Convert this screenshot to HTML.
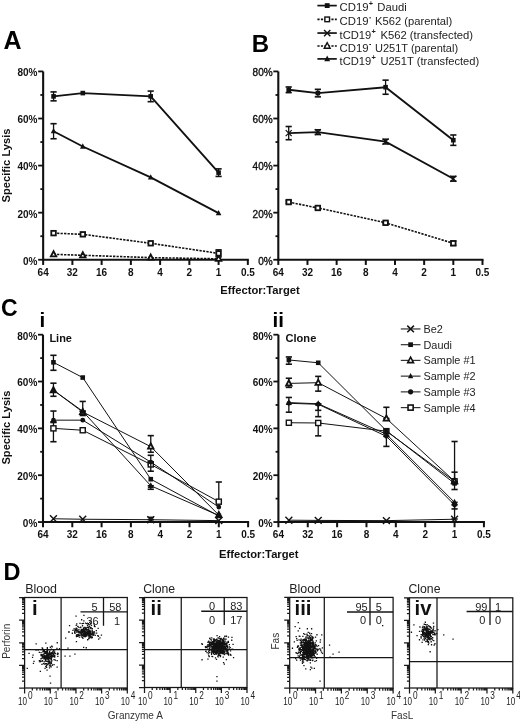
<!DOCTYPE html>
<html><head><meta charset="utf-8"><style>
html,body{margin:0;padding:0;background:#fff;}
svg{display:block;font-family:"Liberation Sans", sans-serif;will-change:transform;}
</style></head><body>
<svg width="520" height="722" viewBox="0 0 520 722">
<rect x="0" y="0" width="520" height="722" fill="#fff"/>
<line x1="43.15" y1="71.43" x2="43.15" y2="260.75" stroke="#111" stroke-width="2.1" />
<line x1="38.15" y1="259.75" x2="43.15" y2="259.75" stroke="#111" stroke-width="1.8" />
<text x="37.45" y="264.65" font-size="10" font-weight="bold" text-anchor="end" fill="#111" >0%</text>
<line x1="40.35" y1="236.21" x2="43.15" y2="236.21" stroke="#111" stroke-width="1.8" />
<line x1="38.15" y1="212.67" x2="43.15" y2="212.67" stroke="#111" stroke-width="1.8" />
<text x="37.45" y="217.57" font-size="10" font-weight="bold" text-anchor="end" fill="#111" >20%</text>
<line x1="40.35" y1="189.13" x2="43.15" y2="189.13" stroke="#111" stroke-width="1.8" />
<line x1="38.15" y1="165.59" x2="43.15" y2="165.59" stroke="#111" stroke-width="1.8" />
<text x="37.45" y="170.49" font-size="10" font-weight="bold" text-anchor="end" fill="#111" >40%</text>
<line x1="40.35" y1="142.05" x2="43.15" y2="142.05" stroke="#111" stroke-width="1.8" />
<line x1="38.15" y1="118.51" x2="43.15" y2="118.51" stroke="#111" stroke-width="1.8" />
<text x="37.45" y="123.41" font-size="10" font-weight="bold" text-anchor="end" fill="#111" >60%</text>
<line x1="40.35" y1="94.97" x2="43.15" y2="94.97" stroke="#111" stroke-width="1.8" />
<line x1="38.15" y1="71.43" x2="43.15" y2="71.43" stroke="#111" stroke-width="1.8" />
<text x="37.45" y="76.33" font-size="10" font-weight="bold" text-anchor="end" fill="#111" >80%</text>
<line x1="42.15" y1="259.75" x2="248.83" y2="259.75" stroke="#111" stroke-width="2.1" />
<line x1="43.15" y1="259.75" x2="43.15" y2="264.95" stroke="#111" stroke-width="2.0" />
<text x="43.15" y="275.90" font-size="10" font-weight="bold" text-anchor="middle" fill="#111" >64</text>
<line x1="72.39" y1="259.75" x2="72.39" y2="264.95" stroke="#111" stroke-width="2.0" />
<text x="72.39" y="275.90" font-size="10" font-weight="bold" text-anchor="middle" fill="#111" >32</text>
<line x1="101.63" y1="259.75" x2="101.63" y2="264.95" stroke="#111" stroke-width="2.0" />
<text x="101.63" y="275.90" font-size="10" font-weight="bold" text-anchor="middle" fill="#111" >16</text>
<line x1="130.87" y1="259.75" x2="130.87" y2="264.95" stroke="#111" stroke-width="2.0" />
<text x="130.87" y="275.90" font-size="10" font-weight="bold" text-anchor="middle" fill="#111" >8</text>
<line x1="160.11" y1="259.75" x2="160.11" y2="264.95" stroke="#111" stroke-width="2.0" />
<text x="160.11" y="275.90" font-size="10" font-weight="bold" text-anchor="middle" fill="#111" >4</text>
<line x1="189.35" y1="259.75" x2="189.35" y2="264.95" stroke="#111" stroke-width="2.0" />
<text x="189.35" y="275.90" font-size="10" font-weight="bold" text-anchor="middle" fill="#111" >2</text>
<line x1="218.59" y1="259.75" x2="218.59" y2="264.95" stroke="#111" stroke-width="2.0" />
<text x="218.59" y="275.90" font-size="10" font-weight="bold" text-anchor="middle" fill="#111" >1</text>
<line x1="247.83" y1="259.75" x2="247.83" y2="264.95" stroke="#111" stroke-width="2.0" />
<text x="247.83" y="275.90" font-size="10" font-weight="bold" text-anchor="middle" fill="#111" >0.5</text>
<path d="M53.56,254.34 L82.80,255.28 L150.70,257.63 L218.59,258.81" fill="none" stroke="#111" stroke-width="1.6" stroke-dasharray="2.3,1.2"/>
<polygon points="53.56,251.21 50.82,256.42 56.31,256.42" fill="#fff" stroke="#111" stroke-width="1.8" stroke-linejoin="miter"/>
<polygon points="82.80,252.15 80.06,257.36 85.55,257.36" fill="#fff" stroke="#111" stroke-width="1.8" stroke-linejoin="miter"/>
<polygon points="150.70,254.50 147.95,259.72 153.44,259.72" fill="#fff" stroke="#111" stroke-width="1.8" stroke-linejoin="miter"/>
<polygon points="218.59,255.68 215.84,260.89 221.34,260.89" fill="#fff" stroke="#111" stroke-width="1.8" stroke-linejoin="miter"/>
<path d="M53.56,233.15 L82.80,234.33 L150.70,243.27 L218.59,253.39" fill="none" stroke="#111" stroke-width="1.6" stroke-dasharray="2.3,1.2"/>
<line x1="218.59" y1="249.86" x2="218.59" y2="256.93" stroke="#111" stroke-width="1.3" />
<line x1="215.49" y1="249.86" x2="221.69" y2="249.86" stroke="#111" stroke-width="1.6" />
<line x1="215.49" y1="256.93" x2="221.69" y2="256.93" stroke="#111" stroke-width="1.6" />
<rect x="51.29" y="230.87" width="4.55" height="4.55" fill="#fff" stroke="#111" stroke-width="1.8"/>
<rect x="80.53" y="232.05" width="4.55" height="4.55" fill="#fff" stroke="#111" stroke-width="1.8"/>
<rect x="148.42" y="241.00" width="4.55" height="4.55" fill="#fff" stroke="#111" stroke-width="1.8"/>
<rect x="216.31" y="251.12" width="4.55" height="4.55" fill="#fff" stroke="#111" stroke-width="1.8"/>
<path d="M53.56,131.22 L82.80,146.52 L150.70,177.36 L218.59,213.14" fill="none" stroke="#111" stroke-width="1.9" />
<line x1="53.56" y1="123.69" x2="53.56" y2="138.75" stroke="#111" stroke-width="1.3" />
<line x1="50.46" y1="123.69" x2="56.66" y2="123.69" stroke="#111" stroke-width="1.6" />
<line x1="50.46" y1="138.75" x2="56.66" y2="138.75" stroke="#111" stroke-width="1.6" />
<polygon points="53.56,128.03 50.76,133.35 56.36,133.35" fill="#111"/>
<polygon points="82.80,143.33 80.00,148.65 85.60,148.65" fill="#111"/>
<polygon points="150.70,174.17 147.90,179.49 153.50,179.49" fill="#111"/>
<polygon points="218.59,209.95 215.79,215.27 221.39,215.27" fill="#111"/>
<path d="M53.56,96.38 L82.80,93.09 L150.70,96.38 L218.59,172.65" fill="none" stroke="#111" stroke-width="1.9" />
<line x1="53.56" y1="91.91" x2="53.56" y2="100.85" stroke="#111" stroke-width="1.3" />
<line x1="50.46" y1="91.91" x2="56.66" y2="91.91" stroke="#111" stroke-width="1.6" />
<line x1="50.46" y1="100.85" x2="56.66" y2="100.85" stroke="#111" stroke-width="1.6" />
<line x1="150.70" y1="91.09" x2="150.70" y2="101.68" stroke="#111" stroke-width="1.3" />
<line x1="147.60" y1="91.09" x2="153.80" y2="91.09" stroke="#111" stroke-width="1.6" />
<line x1="147.60" y1="101.68" x2="153.80" y2="101.68" stroke="#111" stroke-width="1.6" />
<line x1="218.59" y1="168.89" x2="218.59" y2="176.42" stroke="#111" stroke-width="1.3" />
<line x1="215.49" y1="168.89" x2="221.69" y2="168.89" stroke="#111" stroke-width="1.6" />
<line x1="215.49" y1="176.42" x2="221.69" y2="176.42" stroke="#111" stroke-width="1.6" />
<rect x="51.26" y="94.08" width="4.60" height="4.60" fill="#111"/>
<rect x="80.50" y="90.79" width="4.60" height="4.60" fill="#111"/>
<rect x="148.40" y="94.08" width="4.60" height="4.60" fill="#111"/>
<rect x="216.29" y="170.35" width="4.60" height="4.60" fill="#111"/>
<line x1="278.30" y1="71.43" x2="278.30" y2="260.75" stroke="#111" stroke-width="2.1" />
<line x1="273.30" y1="259.75" x2="278.30" y2="259.75" stroke="#111" stroke-width="1.8" />
<text x="272.60" y="264.65" font-size="10" font-weight="normal" text-anchor="end" fill="#111" stroke="#111" stroke-width="0.35">0%</text>
<line x1="275.50" y1="236.21" x2="278.30" y2="236.21" stroke="#111" stroke-width="1.8" />
<line x1="273.30" y1="212.67" x2="278.30" y2="212.67" stroke="#111" stroke-width="1.8" />
<text x="272.60" y="217.57" font-size="10" font-weight="normal" text-anchor="end" fill="#111" stroke="#111" stroke-width="0.35">20%</text>
<line x1="275.50" y1="189.13" x2="278.30" y2="189.13" stroke="#111" stroke-width="1.8" />
<line x1="273.30" y1="165.59" x2="278.30" y2="165.59" stroke="#111" stroke-width="1.8" />
<text x="272.60" y="170.49" font-size="10" font-weight="normal" text-anchor="end" fill="#111" stroke="#111" stroke-width="0.35">40%</text>
<line x1="275.50" y1="142.05" x2="278.30" y2="142.05" stroke="#111" stroke-width="1.8" />
<line x1="273.30" y1="118.51" x2="278.30" y2="118.51" stroke="#111" stroke-width="1.8" />
<text x="272.60" y="123.41" font-size="10" font-weight="normal" text-anchor="end" fill="#111" stroke="#111" stroke-width="0.35">60%</text>
<line x1="275.50" y1="94.97" x2="278.30" y2="94.97" stroke="#111" stroke-width="1.8" />
<line x1="273.30" y1="71.43" x2="278.30" y2="71.43" stroke="#111" stroke-width="1.8" />
<text x="272.60" y="76.33" font-size="10" font-weight="normal" text-anchor="end" fill="#111" stroke="#111" stroke-width="0.35">80%</text>
<line x1="277.30" y1="259.75" x2="483.49" y2="259.75" stroke="#111" stroke-width="2.1" />
<line x1="278.30" y1="259.75" x2="278.30" y2="264.95" stroke="#111" stroke-width="2.0" />
<text x="278.30" y="275.90" font-size="10" font-weight="bold" text-anchor="middle" fill="#111" >64</text>
<line x1="307.47" y1="259.75" x2="307.47" y2="264.95" stroke="#111" stroke-width="2.0" />
<text x="307.47" y="275.90" font-size="10" font-weight="bold" text-anchor="middle" fill="#111" >32</text>
<line x1="336.64" y1="259.75" x2="336.64" y2="264.95" stroke="#111" stroke-width="2.0" />
<text x="336.64" y="275.90" font-size="10" font-weight="bold" text-anchor="middle" fill="#111" >16</text>
<line x1="365.81" y1="259.75" x2="365.81" y2="264.95" stroke="#111" stroke-width="2.0" />
<text x="365.81" y="275.90" font-size="10" font-weight="bold" text-anchor="middle" fill="#111" >8</text>
<line x1="394.98" y1="259.75" x2="394.98" y2="264.95" stroke="#111" stroke-width="2.0" />
<text x="394.98" y="275.90" font-size="10" font-weight="bold" text-anchor="middle" fill="#111" >4</text>
<line x1="424.15" y1="259.75" x2="424.15" y2="264.95" stroke="#111" stroke-width="2.0" />
<text x="424.15" y="275.90" font-size="10" font-weight="bold" text-anchor="middle" fill="#111" >2</text>
<line x1="453.32" y1="259.75" x2="453.32" y2="264.95" stroke="#111" stroke-width="2.0" />
<text x="453.32" y="275.90" font-size="10" font-weight="bold" text-anchor="middle" fill="#111" >1</text>
<line x1="482.49" y1="259.75" x2="482.49" y2="264.95" stroke="#111" stroke-width="2.0" />
<text x="482.49" y="275.90" font-size="10" font-weight="bold" text-anchor="middle" fill="#111" >0.5</text>
<path d="M288.69,202.08 L317.86,207.96 L385.59,222.79 L453.32,243.27" fill="none" stroke="#111" stroke-width="1.6" stroke-dasharray="2.3,1.2"/>
<line x1="288.69" y1="200.90" x2="288.69" y2="203.25" stroke="#111" stroke-width="1.3" />
<line x1="285.59" y1="200.90" x2="291.79" y2="200.90" stroke="#111" stroke-width="1.6" />
<line x1="285.59" y1="203.25" x2="291.79" y2="203.25" stroke="#111" stroke-width="1.6" />
<line x1="317.86" y1="206.78" x2="317.86" y2="209.14" stroke="#111" stroke-width="1.3" />
<line x1="314.76" y1="206.78" x2="320.96" y2="206.78" stroke="#111" stroke-width="1.6" />
<line x1="314.76" y1="209.14" x2="320.96" y2="209.14" stroke="#111" stroke-width="1.6" />
<line x1="385.59" y1="221.85" x2="385.59" y2="223.73" stroke="#111" stroke-width="1.3" />
<line x1="382.49" y1="221.85" x2="388.69" y2="221.85" stroke="#111" stroke-width="1.6" />
<line x1="382.49" y1="223.73" x2="388.69" y2="223.73" stroke="#111" stroke-width="1.6" />
<line x1="453.32" y1="241.15" x2="453.32" y2="245.39" stroke="#111" stroke-width="1.3" />
<line x1="450.22" y1="241.15" x2="456.42" y2="241.15" stroke="#111" stroke-width="1.6" />
<line x1="450.22" y1="245.39" x2="456.42" y2="245.39" stroke="#111" stroke-width="1.6" />
<rect x="286.41" y="199.80" width="4.55" height="4.55" fill="#fff" stroke="#111" stroke-width="1.8"/>
<rect x="315.58" y="205.69" width="4.55" height="4.55" fill="#fff" stroke="#111" stroke-width="1.8"/>
<rect x="383.31" y="220.52" width="4.55" height="4.55" fill="#fff" stroke="#111" stroke-width="1.8"/>
<rect x="451.04" y="241.00" width="4.55" height="4.55" fill="#fff" stroke="#111" stroke-width="1.8"/>
<path d="M288.69,133.10 L317.86,132.16 L385.59,141.58 L453.32,178.77" fill="none" stroke="#111" stroke-width="1.9" />
<line x1="288.69" y1="126.51" x2="288.69" y2="139.70" stroke="#111" stroke-width="1.3" />
<line x1="285.59" y1="126.51" x2="291.79" y2="126.51" stroke="#111" stroke-width="1.6" />
<line x1="285.59" y1="139.70" x2="291.79" y2="139.70" stroke="#111" stroke-width="1.6" />
<line x1="317.86" y1="129.81" x2="317.86" y2="134.52" stroke="#111" stroke-width="1.3" />
<line x1="314.76" y1="129.81" x2="320.96" y2="129.81" stroke="#111" stroke-width="1.6" />
<line x1="314.76" y1="134.52" x2="320.96" y2="134.52" stroke="#111" stroke-width="1.6" />
<line x1="385.59" y1="139.23" x2="385.59" y2="143.93" stroke="#111" stroke-width="1.3" />
<line x1="382.49" y1="139.23" x2="388.69" y2="139.23" stroke="#111" stroke-width="1.6" />
<line x1="382.49" y1="143.93" x2="388.69" y2="143.93" stroke="#111" stroke-width="1.6" />
<line x1="453.32" y1="176.42" x2="453.32" y2="181.13" stroke="#111" stroke-width="1.3" />
<line x1="450.22" y1="176.42" x2="456.42" y2="176.42" stroke="#111" stroke-width="1.6" />
<line x1="450.22" y1="181.13" x2="456.42" y2="181.13" stroke="#111" stroke-width="1.6" />
<path d="M285.69,130.10L291.69,136.10M285.69,136.10L291.69,130.10" stroke="#111" stroke-width="1.2" fill="none"/>
<path d="M314.86,129.16L320.86,135.16M314.86,135.16L320.86,129.16" stroke="#111" stroke-width="1.2" fill="none"/>
<path d="M382.59,138.58L388.59,144.58M382.59,144.58L388.59,138.58" stroke="#111" stroke-width="1.2" fill="none"/>
<path d="M450.32,175.77L456.32,181.77M450.32,181.77L456.32,175.77" stroke="#111" stroke-width="1.2" fill="none"/>
<path d="M288.69,89.79 L317.86,93.09 L385.59,87.20 L453.32,140.17" fill="none" stroke="#111" stroke-width="1.9" />
<line x1="288.69" y1="86.97" x2="288.69" y2="92.62" stroke="#111" stroke-width="1.3" />
<line x1="285.59" y1="86.97" x2="291.79" y2="86.97" stroke="#111" stroke-width="1.6" />
<line x1="285.59" y1="92.62" x2="291.79" y2="92.62" stroke="#111" stroke-width="1.6" />
<line x1="317.86" y1="89.32" x2="317.86" y2="96.85" stroke="#111" stroke-width="1.3" />
<line x1="314.76" y1="89.32" x2="320.96" y2="89.32" stroke="#111" stroke-width="1.6" />
<line x1="314.76" y1="96.85" x2="320.96" y2="96.85" stroke="#111" stroke-width="1.6" />
<line x1="385.59" y1="80.14" x2="385.59" y2="94.26" stroke="#111" stroke-width="1.3" />
<line x1="382.49" y1="80.14" x2="388.69" y2="80.14" stroke="#111" stroke-width="1.6" />
<line x1="382.49" y1="94.26" x2="388.69" y2="94.26" stroke="#111" stroke-width="1.6" />
<line x1="453.32" y1="134.99" x2="453.32" y2="145.35" stroke="#111" stroke-width="1.3" />
<line x1="450.22" y1="134.99" x2="456.42" y2="134.99" stroke="#111" stroke-width="1.6" />
<line x1="450.22" y1="145.35" x2="456.42" y2="145.35" stroke="#111" stroke-width="1.6" />
<rect x="286.39" y="87.49" width="4.60" height="4.60" fill="#111"/>
<rect x="315.56" y="90.79" width="4.60" height="4.60" fill="#111"/>
<rect x="383.29" y="84.90" width="4.60" height="4.60" fill="#111"/>
<rect x="451.02" y="137.87" width="4.60" height="4.60" fill="#111"/>
<text x="3.50" y="49.20" font-size="25" font-weight="bold" text-anchor="start" fill="#000" >A</text>
<text x="251.80" y="51.60" font-size="24" font-weight="bold" text-anchor="start" fill="#000" >B</text>
<text x="0.00" y="0.00" font-size="11.8" font-weight="bold" text-anchor="middle" fill="#111" textLength="74" lengthAdjust="spacingAndGlyphs" transform="translate(9.9,165.5) rotate(-90)">Specific Lysis</text>
<text x="260.00" y="293.80" font-size="11" font-weight="bold" text-anchor="middle" fill="#111" textLength="79.5" lengthAdjust="spacingAndGlyphs" >Effector:Target</text>
<line x1="317.4" y1="5.60" x2="336.8" y2="5.60" stroke="#111" stroke-width="1.7" />
<rect x="324.78" y="3.18" width="4.83" height="4.83" fill="#111"/>
<text x="339.60" y="11.30" font-size="11.2" font-weight="normal" text-anchor="start" fill="#222" textLength="29.0" lengthAdjust="spacingAndGlyphs" >CD19</text>
<text x="368.80" y="6.20" font-size="7.4" font-weight="bold" text-anchor="start" fill="#222" >+</text>
<text x="377.30" y="11.30" font-size="11.2" font-weight="normal" text-anchor="start" fill="#222" textLength="29.4" lengthAdjust="spacingAndGlyphs" >Daudi</text>
<line x1="317.4" y1="19.35" x2="336.8" y2="19.35" stroke="#111" stroke-width="1.7" stroke-dasharray="2.2,1.3"/>
<rect x="324.88" y="17.04" width="4.63" height="4.63" fill="#fff" stroke="#111" stroke-width="1.4"/>
<text x="339.60" y="25.05" font-size="11.2" font-weight="normal" text-anchor="start" fill="#222" textLength="29.0" lengthAdjust="spacingAndGlyphs" >CD19</text>
<rect x="369.30" y="17.35" width="1.7" height="1.0" fill="#222"/>
<text x="375.00" y="25.05" font-size="11.2" font-weight="normal" text-anchor="start" fill="#222" textLength="77.3" lengthAdjust="spacingAndGlyphs" >K562 (parental)</text>
<line x1="317.4" y1="33.05" x2="336.8" y2="33.05" stroke="#111" stroke-width="1.7" />
<path d="M324.05,29.90L330.35,36.20M324.05,36.20L330.35,29.90" stroke="#111" stroke-width="1.4" fill="none"/>
<text x="339.60" y="38.75" font-size="11.2" font-weight="normal" text-anchor="start" fill="#222" textLength="31.7" lengthAdjust="spacingAndGlyphs" >tCD19</text>
<text x="371.50" y="33.65" font-size="7.4" font-weight="bold" text-anchor="start" fill="#222" >+</text>
<text x="380.40" y="38.75" font-size="11.2" font-weight="normal" text-anchor="start" fill="#222" textLength="92.7" lengthAdjust="spacingAndGlyphs" >K562 (transfected)</text>
<line x1="317.4" y1="46.00" x2="336.8" y2="46.00" stroke="#111" stroke-width="1.7" stroke-dasharray="2.2,1.3"/>
<polygon points="327.20,42.64 324.25,48.24 330.14,48.24" fill="#fff" stroke="#111" stroke-width="1.4" stroke-linejoin="miter"/>
<text x="339.60" y="51.70" font-size="11.2" font-weight="normal" text-anchor="start" fill="#222" textLength="29.0" lengthAdjust="spacingAndGlyphs" >CD19</text>
<rect x="369.30" y="44.00" width="1.7" height="1.0" fill="#222"/>
<text x="375.00" y="51.70" font-size="11.2" font-weight="normal" text-anchor="start" fill="#222" textLength="83.10000000000001" lengthAdjust="spacingAndGlyphs" >U251T (parental)</text>
<line x1="317.4" y1="58.90" x2="336.8" y2="58.90" stroke="#111" stroke-width="1.7" />
<polygon points="327.20,55.55 324.26,61.13 330.14,61.13" fill="#111"/>
<text x="339.60" y="64.60" font-size="11.2" font-weight="normal" text-anchor="start" fill="#222" textLength="31.7" lengthAdjust="spacingAndGlyphs" >tCD19</text>
<text x="371.50" y="59.50" font-size="7.4" font-weight="bold" text-anchor="start" fill="#222" >+</text>
<text x="380.40" y="64.60" font-size="11.2" font-weight="normal" text-anchor="start" fill="#222" textLength="98.8" lengthAdjust="spacingAndGlyphs" >U251T (transfected)</text>
<line x1="43.00" y1="334.69" x2="43.00" y2="523.05" stroke="#111" stroke-width="2.1" />
<line x1="38.00" y1="522.05" x2="43.00" y2="522.05" stroke="#111" stroke-width="1.8" />
<text x="37.30" y="526.95" font-size="10" font-weight="bold" text-anchor="end" fill="#111" >0%</text>
<line x1="40.20" y1="498.63" x2="43.00" y2="498.63" stroke="#111" stroke-width="1.8" />
<line x1="38.00" y1="475.21" x2="43.00" y2="475.21" stroke="#111" stroke-width="1.8" />
<text x="37.30" y="480.11" font-size="10" font-weight="bold" text-anchor="end" fill="#111" >20%</text>
<line x1="40.20" y1="451.79" x2="43.00" y2="451.79" stroke="#111" stroke-width="1.8" />
<line x1="38.00" y1="428.37" x2="43.00" y2="428.37" stroke="#111" stroke-width="1.8" />
<text x="37.30" y="433.27" font-size="10" font-weight="bold" text-anchor="end" fill="#111" >40%</text>
<line x1="40.20" y1="404.95" x2="43.00" y2="404.95" stroke="#111" stroke-width="1.8" />
<line x1="38.00" y1="381.53" x2="43.00" y2="381.53" stroke="#111" stroke-width="1.8" />
<text x="37.30" y="386.43" font-size="10" font-weight="bold" text-anchor="end" fill="#111" >60%</text>
<line x1="40.20" y1="358.11" x2="43.00" y2="358.11" stroke="#111" stroke-width="1.8" />
<line x1="38.00" y1="334.69" x2="43.00" y2="334.69" stroke="#111" stroke-width="1.8" />
<text x="37.30" y="339.59" font-size="10" font-weight="bold" text-anchor="end" fill="#111" >80%</text>
<line x1="42.00" y1="522.05" x2="249.10" y2="522.05" stroke="#111" stroke-width="2.1" />
<line x1="43.00" y1="522.05" x2="43.00" y2="527.25" stroke="#111" stroke-width="2.0" />
<text x="43.00" y="538.40" font-size="10" font-weight="bold" text-anchor="middle" fill="#111" >64</text>
<line x1="72.30" y1="522.05" x2="72.30" y2="527.25" stroke="#111" stroke-width="2.0" />
<text x="72.30" y="538.40" font-size="10" font-weight="bold" text-anchor="middle" fill="#111" >32</text>
<line x1="101.60" y1="522.05" x2="101.60" y2="527.25" stroke="#111" stroke-width="2.0" />
<text x="101.60" y="538.40" font-size="10" font-weight="bold" text-anchor="middle" fill="#111" >16</text>
<line x1="130.90" y1="522.05" x2="130.90" y2="527.25" stroke="#111" stroke-width="2.0" />
<text x="130.90" y="538.40" font-size="10" font-weight="bold" text-anchor="middle" fill="#111" >8</text>
<line x1="160.20" y1="522.05" x2="160.20" y2="527.25" stroke="#111" stroke-width="2.0" />
<text x="160.20" y="538.40" font-size="10" font-weight="bold" text-anchor="middle" fill="#111" >4</text>
<line x1="189.50" y1="522.05" x2="189.50" y2="527.25" stroke="#111" stroke-width="2.0" />
<text x="189.50" y="538.40" font-size="10" font-weight="bold" text-anchor="middle" fill="#111" >2</text>
<line x1="218.80" y1="522.05" x2="218.80" y2="527.25" stroke="#111" stroke-width="2.0" />
<text x="218.80" y="538.40" font-size="10" font-weight="bold" text-anchor="middle" fill="#111" >1</text>
<line x1="248.10" y1="522.05" x2="248.10" y2="527.25" stroke="#111" stroke-width="2.0" />
<text x="248.10" y="538.40" font-size="10" font-weight="bold" text-anchor="middle" fill="#111" >0.5</text>
<line x1="278.40" y1="334.69" x2="278.40" y2="523.05" stroke="#111" stroke-width="2.1" />
<line x1="273.40" y1="522.05" x2="278.40" y2="522.05" stroke="#111" stroke-width="1.8" />
<text x="272.70" y="526.95" font-size="10" font-weight="bold" text-anchor="end" fill="#111" >0%</text>
<line x1="275.60" y1="498.63" x2="278.40" y2="498.63" stroke="#111" stroke-width="1.8" />
<line x1="273.40" y1="475.21" x2="278.40" y2="475.21" stroke="#111" stroke-width="1.8" />
<text x="272.70" y="480.11" font-size="10" font-weight="bold" text-anchor="end" fill="#111" >20%</text>
<line x1="275.60" y1="451.79" x2="278.40" y2="451.79" stroke="#111" stroke-width="1.8" />
<line x1="273.40" y1="428.37" x2="278.40" y2="428.37" stroke="#111" stroke-width="1.8" />
<text x="272.70" y="433.27" font-size="10" font-weight="bold" text-anchor="end" fill="#111" >40%</text>
<line x1="275.60" y1="404.95" x2="278.40" y2="404.95" stroke="#111" stroke-width="1.8" />
<line x1="273.40" y1="381.53" x2="278.40" y2="381.53" stroke="#111" stroke-width="1.8" />
<text x="272.70" y="386.43" font-size="10" font-weight="bold" text-anchor="end" fill="#111" >60%</text>
<line x1="275.60" y1="358.11" x2="278.40" y2="358.11" stroke="#111" stroke-width="1.8" />
<line x1="273.40" y1="334.69" x2="278.40" y2="334.69" stroke="#111" stroke-width="1.8" />
<text x="272.70" y="339.59" font-size="10" font-weight="bold" text-anchor="end" fill="#111" >80%</text>
<line x1="277.40" y1="522.05" x2="484.92" y2="522.05" stroke="#111" stroke-width="2.1" />
<line x1="278.40" y1="522.05" x2="278.40" y2="527.25" stroke="#111" stroke-width="2.0" />
<text x="278.40" y="538.40" font-size="10" font-weight="bold" text-anchor="middle" fill="#111" >64</text>
<line x1="307.76" y1="522.05" x2="307.76" y2="527.25" stroke="#111" stroke-width="2.0" />
<text x="307.76" y="538.40" font-size="10" font-weight="bold" text-anchor="middle" fill="#111" >32</text>
<line x1="337.12" y1="522.05" x2="337.12" y2="527.25" stroke="#111" stroke-width="2.0" />
<text x="337.12" y="538.40" font-size="10" font-weight="bold" text-anchor="middle" fill="#111" >16</text>
<line x1="366.48" y1="522.05" x2="366.48" y2="527.25" stroke="#111" stroke-width="2.0" />
<text x="366.48" y="538.40" font-size="10" font-weight="bold" text-anchor="middle" fill="#111" >8</text>
<line x1="395.84" y1="522.05" x2="395.84" y2="527.25" stroke="#111" stroke-width="2.0" />
<text x="395.84" y="538.40" font-size="10" font-weight="bold" text-anchor="middle" fill="#111" >4</text>
<line x1="425.20" y1="522.05" x2="425.20" y2="527.25" stroke="#111" stroke-width="2.0" />
<text x="425.20" y="538.40" font-size="10" font-weight="bold" text-anchor="middle" fill="#111" >2</text>
<line x1="454.56" y1="522.05" x2="454.56" y2="527.25" stroke="#111" stroke-width="2.0" />
<text x="454.56" y="538.40" font-size="10" font-weight="bold" text-anchor="middle" fill="#111" >1</text>
<line x1="483.92" y1="522.05" x2="483.92" y2="527.25" stroke="#111" stroke-width="2.0" />
<text x="483.92" y="538.40" font-size="10" font-weight="bold" text-anchor="middle" fill="#111" >0.5</text>
<text x="1.00" y="316.30" font-size="23" font-weight="bold" text-anchor="start" fill="#000" >C</text>
<text x="39.60" y="326.80" font-size="20.5" font-weight="bold" text-anchor="start" fill="#000" >i</text>
<text x="272.50" y="326.80" font-size="20.5" font-weight="bold" text-anchor="start" fill="#000" >ii</text>
<text x="49.40" y="342.10" font-size="11" font-weight="bold" text-anchor="start" fill="#111" textLength="22.6" lengthAdjust="spacingAndGlyphs" >Line</text>
<text x="285.50" y="342.30" font-size="11" font-weight="bold" text-anchor="start" fill="#111" textLength="30.8" lengthAdjust="spacingAndGlyphs" >Clone</text>
<text x="0.00" y="0.00" font-size="11.8" font-weight="bold" text-anchor="middle" fill="#111" textLength="74" lengthAdjust="spacingAndGlyphs" transform="translate(9.6,427.6) rotate(-90)">Specific Lysis</text>
<text x="258.80" y="558.30" font-size="11" font-weight="bold" text-anchor="middle" fill="#111" textLength="79.5" lengthAdjust="spacingAndGlyphs" >Effector:Target</text>
<path d="M53.44,518.77 L82.74,519.24 L150.77,519.71 L218.80,520.64" fill="none" stroke="#111" stroke-width="1.0" />
<line x1="150.77" y1="517.37" x2="150.77" y2="519.71" stroke="#111" stroke-width="1.3" />
<line x1="147.67" y1="517.37" x2="153.87" y2="517.37" stroke="#111" stroke-width="1.6" />
<line x1="147.67" y1="519.71" x2="153.87" y2="519.71" stroke="#111" stroke-width="1.6" />
<path d="M49.99,515.32L56.89,522.22M49.99,522.22L56.89,515.32" stroke="#111" stroke-width="1.4" fill="none"/>
<path d="M79.29,515.79L86.19,522.69M79.29,522.69L86.19,515.79" stroke="#111" stroke-width="1.4" fill="none"/>
<path d="M147.32,516.26L154.22,523.16M147.32,523.16L154.22,516.26" stroke="#111" stroke-width="1.4" fill="none"/>
<path d="M215.35,517.19L222.25,524.09M215.35,524.09L222.25,517.19" stroke="#111" stroke-width="1.4" fill="none"/>
<path d="M53.44,428.37 L82.74,430.24 L150.77,464.44 L218.80,501.67" fill="none" stroke="#111" stroke-width="1.0" />
<line x1="53.44" y1="421.81" x2="53.44" y2="441.72" stroke="#111" stroke-width="1.3" />
<line x1="50.34" y1="421.81" x2="56.54" y2="421.81" stroke="#111" stroke-width="1.6" />
<line x1="50.34" y1="441.72" x2="56.54" y2="441.72" stroke="#111" stroke-width="1.6" />
<line x1="150.77" y1="455.30" x2="150.77" y2="464.44" stroke="#111" stroke-width="1.3" />
<line x1="147.67" y1="455.30" x2="153.87" y2="455.30" stroke="#111" stroke-width="1.6" />
<line x1="147.67" y1="464.44" x2="153.87" y2="464.44" stroke="#111" stroke-width="1.6" />
<line x1="218.80" y1="482.00" x2="218.80" y2="501.67" stroke="#111" stroke-width="1.3" />
<line x1="215.70" y1="482.00" x2="221.90" y2="482.00" stroke="#111" stroke-width="1.6" />
<line x1="215.70" y1="501.67" x2="221.90" y2="501.67" stroke="#111" stroke-width="1.6" />
<rect x="50.89" y="425.82" width="5.09" height="5.09" fill="#fff" stroke="#111" stroke-width="1.4"/>
<rect x="80.19" y="427.70" width="5.09" height="5.09" fill="#fff" stroke="#111" stroke-width="1.4"/>
<rect x="148.22" y="461.89" width="5.09" height="5.09" fill="#fff" stroke="#111" stroke-width="1.4"/>
<rect x="216.26" y="499.13" width="5.09" height="5.09" fill="#fff" stroke="#111" stroke-width="1.4"/>
<path d="M53.44,420.17 L82.74,420.17 L150.77,462.09 L218.80,507.06" fill="none" stroke="#111" stroke-width="1.0" />
<line x1="53.44" y1="411.04" x2="53.44" y2="422.51" stroke="#111" stroke-width="1.3" />
<line x1="50.34" y1="411.04" x2="56.54" y2="411.04" stroke="#111" stroke-width="1.6" />
<line x1="50.34" y1="422.51" x2="56.54" y2="422.51" stroke="#111" stroke-width="1.6" />
<line x1="150.77" y1="462.09" x2="150.77" y2="471.23" stroke="#111" stroke-width="1.3" />
<line x1="147.67" y1="462.09" x2="153.87" y2="462.09" stroke="#111" stroke-width="1.6" />
<line x1="147.67" y1="471.23" x2="153.87" y2="471.23" stroke="#111" stroke-width="1.6" />
<circle cx="53.44" cy="420.17" r="2.40" fill="#111"/>
<circle cx="82.74" cy="420.17" r="2.40" fill="#111"/>
<circle cx="150.77" cy="462.09" r="2.40" fill="#111"/>
<circle cx="218.80" cy="507.06" r="2.40" fill="#111"/>
<path d="M53.44,390.20 L82.74,411.98 L150.77,446.64 L218.80,515.02" fill="none" stroke="#111" stroke-width="1.0" />
<line x1="53.44" y1="383.17" x2="53.44" y2="396.28" stroke="#111" stroke-width="1.3" />
<line x1="50.34" y1="383.17" x2="56.54" y2="383.17" stroke="#111" stroke-width="1.6" />
<line x1="50.34" y1="396.28" x2="56.54" y2="396.28" stroke="#111" stroke-width="1.6" />
<line x1="82.74" y1="401.44" x2="82.74" y2="415.49" stroke="#111" stroke-width="1.3" />
<line x1="79.64" y1="401.44" x2="85.84" y2="401.44" stroke="#111" stroke-width="1.6" />
<line x1="79.64" y1="415.49" x2="85.84" y2="415.49" stroke="#111" stroke-width="1.6" />
<line x1="150.77" y1="435.63" x2="150.77" y2="452.26" stroke="#111" stroke-width="1.3" />
<line x1="147.67" y1="435.63" x2="153.87" y2="435.63" stroke="#111" stroke-width="1.6" />
<line x1="147.67" y1="452.26" x2="153.87" y2="452.26" stroke="#111" stroke-width="1.6" />
<polygon points="53.44,387.07 50.69,392.28 56.18,392.28" fill="#fff" stroke="#111" stroke-width="1.8" stroke-linejoin="miter"/>
<polygon points="82.74,408.85 79.99,414.06 85.48,414.06" fill="#fff" stroke="#111" stroke-width="1.8" stroke-linejoin="miter"/>
<polygon points="150.77,443.51 148.02,448.72 153.51,448.72" fill="#fff" stroke="#111" stroke-width="1.8" stroke-linejoin="miter"/>
<polygon points="218.80,511.89 216.06,517.11 221.55,517.11" fill="#fff" stroke="#111" stroke-width="1.8" stroke-linejoin="miter"/>
<path d="M53.44,390.20 L82.74,411.27 L150.77,485.75 L218.80,515.49" fill="none" stroke="#111" stroke-width="1.0" />
<line x1="82.74" y1="411.27" x2="82.74" y2="411.27" stroke="#111" stroke-width="1.3" />
<line x1="79.64" y1="411.27" x2="85.84" y2="411.27" stroke="#111" stroke-width="1.6" />
<line x1="79.64" y1="411.27" x2="85.84" y2="411.27" stroke="#111" stroke-width="1.6" />
<line x1="150.77" y1="485.75" x2="150.77" y2="489.26" stroke="#111" stroke-width="1.3" />
<line x1="147.67" y1="485.75" x2="153.87" y2="485.75" stroke="#111" stroke-width="1.6" />
<line x1="147.67" y1="489.26" x2="153.87" y2="489.26" stroke="#111" stroke-width="1.6" />
<polygon points="53.44,386.68 50.36,392.54 56.52,392.54" fill="#111"/>
<polygon points="82.74,407.76 79.66,413.61 85.82,413.61" fill="#111"/>
<polygon points="150.77,482.24 147.69,488.09 153.85,488.09" fill="#111"/>
<polygon points="218.80,511.98 215.72,517.83 221.88,517.83" fill="#111"/>
<path d="M53.44,362.33 L82.74,377.55 L150.77,479.19 L218.80,515.96" fill="none" stroke="#111" stroke-width="1.0" />
<line x1="53.44" y1="355.30" x2="53.44" y2="370.29" stroke="#111" stroke-width="1.3" />
<line x1="50.34" y1="355.30" x2="56.54" y2="355.30" stroke="#111" stroke-width="1.6" />
<line x1="50.34" y1="370.29" x2="56.54" y2="370.29" stroke="#111" stroke-width="1.6" />
<rect x="51.14" y="360.03" width="4.60" height="4.60" fill="#111"/>
<rect x="80.44" y="375.25" width="4.60" height="4.60" fill="#111"/>
<rect x="148.47" y="476.89" width="4.60" height="4.60" fill="#111"/>
<rect x="216.50" y="513.66" width="4.60" height="4.60" fill="#111"/>
<path d="M288.86,520.18 L318.22,520.41 L386.39,520.64 L454.56,519.24" fill="none" stroke="#111" stroke-width="1.0" />
<path d="M285.41,516.73L292.31,523.63M285.41,523.63L292.31,516.73" stroke="#111" stroke-width="1.4" fill="none"/>
<path d="M314.77,516.96L321.67,523.86M314.77,523.86L321.67,516.96" stroke="#111" stroke-width="1.4" fill="none"/>
<path d="M382.94,517.19L389.84,524.09M382.94,524.09L389.84,517.19" stroke="#111" stroke-width="1.4" fill="none"/>
<path d="M451.11,515.79L458.01,522.69M451.11,522.69L458.01,515.79" stroke="#111" stroke-width="1.4" fill="none"/>
<path d="M288.86,422.75 L318.22,422.98 L386.39,431.18 L454.56,481.30" fill="none" stroke="#111" stroke-width="1.0" />
<line x1="318.22" y1="422.98" x2="318.22" y2="435.86" stroke="#111" stroke-width="1.3" />
<line x1="315.12" y1="422.98" x2="321.32" y2="422.98" stroke="#111" stroke-width="1.6" />
<line x1="315.12" y1="435.86" x2="321.32" y2="435.86" stroke="#111" stroke-width="1.6" />
<line x1="454.56" y1="441.49" x2="454.56" y2="481.30" stroke="#111" stroke-width="1.3" />
<line x1="451.46" y1="441.49" x2="457.66" y2="441.49" stroke="#111" stroke-width="1.6" />
<line x1="451.46" y1="481.30" x2="457.66" y2="481.30" stroke="#111" stroke-width="1.6" />
<rect x="286.31" y="420.20" width="5.09" height="5.09" fill="#fff" stroke="#111" stroke-width="1.4"/>
<rect x="315.67" y="420.44" width="5.09" height="5.09" fill="#fff" stroke="#111" stroke-width="1.4"/>
<rect x="383.84" y="428.64" width="5.09" height="5.09" fill="#fff" stroke="#111" stroke-width="1.4"/>
<rect x="452.01" y="478.75" width="5.09" height="5.09" fill="#fff" stroke="#111" stroke-width="1.4"/>
<path d="M288.86,403.31 L318.22,404.25 L386.39,436.33 L454.56,504.95" fill="none" stroke="#111" stroke-width="1.0" />
<line x1="288.86" y1="397.46" x2="288.86" y2="412.21" stroke="#111" stroke-width="1.3" />
<line x1="285.76" y1="397.46" x2="291.96" y2="397.46" stroke="#111" stroke-width="1.6" />
<line x1="285.76" y1="412.21" x2="291.96" y2="412.21" stroke="#111" stroke-width="1.6" />
<line x1="318.22" y1="404.25" x2="318.22" y2="416.66" stroke="#111" stroke-width="1.3" />
<line x1="315.12" y1="404.25" x2="321.32" y2="404.25" stroke="#111" stroke-width="1.6" />
<line x1="315.12" y1="416.66" x2="321.32" y2="416.66" stroke="#111" stroke-width="1.6" />
<line x1="386.39" y1="436.33" x2="386.39" y2="446.40" stroke="#111" stroke-width="1.3" />
<line x1="383.29" y1="436.33" x2="389.49" y2="436.33" stroke="#111" stroke-width="1.6" />
<line x1="383.29" y1="446.40" x2="389.49" y2="446.40" stroke="#111" stroke-width="1.6" />
<line x1="454.56" y1="504.95" x2="454.56" y2="519.01" stroke="#111" stroke-width="1.3" />
<line x1="451.46" y1="504.95" x2="457.66" y2="504.95" stroke="#111" stroke-width="1.6" />
<line x1="451.46" y1="519.01" x2="457.66" y2="519.01" stroke="#111" stroke-width="1.6" />
<circle cx="288.86" cy="403.31" r="2.40" fill="#111"/>
<circle cx="318.22" cy="404.25" r="2.40" fill="#111"/>
<circle cx="386.39" cy="436.33" r="2.40" fill="#111"/>
<circle cx="454.56" cy="504.95" r="2.40" fill="#111"/>
<path d="M288.86,402.61 L318.22,403.78 L386.39,434.22 L454.56,502.38" fill="none" stroke="#111" stroke-width="1.0" />
<line x1="318.22" y1="403.78" x2="318.22" y2="410.34" stroke="#111" stroke-width="1.3" />
<line x1="315.12" y1="403.78" x2="321.32" y2="403.78" stroke="#111" stroke-width="1.6" />
<line x1="315.12" y1="410.34" x2="321.32" y2="410.34" stroke="#111" stroke-width="1.6" />
<line x1="454.56" y1="502.38" x2="454.56" y2="508.93" stroke="#111" stroke-width="1.3" />
<line x1="451.46" y1="502.38" x2="457.66" y2="502.38" stroke="#111" stroke-width="1.6" />
<line x1="451.46" y1="508.93" x2="457.66" y2="508.93" stroke="#111" stroke-width="1.6" />
<polygon points="288.86,399.10 285.78,404.95 291.94,404.95" fill="#111"/>
<polygon points="318.22,400.27 315.14,406.12 321.30,406.12" fill="#111"/>
<polygon points="386.39,430.71 383.31,436.57 389.47,436.57" fill="#111"/>
<polygon points="454.56,498.87 451.48,504.72 457.64,504.72" fill="#111"/>
<path d="M288.86,383.40 L318.22,382.70 L386.39,418.53 L454.56,481.30" fill="none" stroke="#111" stroke-width="1.0" />
<line x1="288.86" y1="378.25" x2="288.86" y2="387.38" stroke="#111" stroke-width="1.3" />
<line x1="285.76" y1="378.25" x2="291.96" y2="378.25" stroke="#111" stroke-width="1.6" />
<line x1="285.76" y1="387.38" x2="291.96" y2="387.38" stroke="#111" stroke-width="1.6" />
<line x1="318.22" y1="376.38" x2="318.22" y2="391.13" stroke="#111" stroke-width="1.3" />
<line x1="315.12" y1="376.38" x2="321.32" y2="376.38" stroke="#111" stroke-width="1.6" />
<line x1="315.12" y1="391.13" x2="321.32" y2="391.13" stroke="#111" stroke-width="1.6" />
<line x1="386.39" y1="407.29" x2="386.39" y2="418.53" stroke="#111" stroke-width="1.3" />
<line x1="383.29" y1="407.29" x2="389.49" y2="407.29" stroke="#111" stroke-width="1.6" />
<line x1="383.29" y1="418.53" x2="389.49" y2="418.53" stroke="#111" stroke-width="1.6" />
<line x1="454.56" y1="472.17" x2="454.56" y2="489.50" stroke="#111" stroke-width="1.3" />
<line x1="451.46" y1="472.17" x2="457.66" y2="472.17" stroke="#111" stroke-width="1.6" />
<line x1="451.46" y1="489.50" x2="457.66" y2="489.50" stroke="#111" stroke-width="1.6" />
<polygon points="288.86,380.27 286.11,385.49 291.60,385.49" fill="#fff" stroke="#111" stroke-width="1.8" stroke-linejoin="miter"/>
<polygon points="318.22,379.57 315.47,384.79 320.96,384.79" fill="#fff" stroke="#111" stroke-width="1.8" stroke-linejoin="miter"/>
<polygon points="386.39,415.40 383.64,420.62 389.13,420.62" fill="#fff" stroke="#111" stroke-width="1.8" stroke-linejoin="miter"/>
<polygon points="454.56,478.17 451.81,483.39 457.30,483.39" fill="#fff" stroke="#111" stroke-width="1.8" stroke-linejoin="miter"/>
<path d="M288.86,359.98 L318.22,362.79 L386.39,430.71 L454.56,483.41" fill="none" stroke="#111" stroke-width="1.0" />
<line x1="288.86" y1="356.94" x2="288.86" y2="364.20" stroke="#111" stroke-width="1.3" />
<line x1="285.76" y1="356.94" x2="291.96" y2="356.94" stroke="#111" stroke-width="1.6" />
<line x1="285.76" y1="364.20" x2="291.96" y2="364.20" stroke="#111" stroke-width="1.6" />
<rect x="286.56" y="357.68" width="4.60" height="4.60" fill="#111"/>
<rect x="315.92" y="360.49" width="4.60" height="4.60" fill="#111"/>
<rect x="384.09" y="428.41" width="4.60" height="4.60" fill="#111"/>
<rect x="452.26" y="481.11" width="4.60" height="4.60" fill="#111"/>
<line x1="400.80" y1="328.95" x2="420.50" y2="328.95" stroke="#333" stroke-width="1.2" />
<path d="M407.30,325.65L413.90,332.25M407.30,332.25L413.90,325.65" stroke="#111" stroke-width="1.5" fill="none"/>
<text x="423.50" y="332.85" font-size="10.9" font-weight="normal" text-anchor="start" fill="#222" >Be2</text>
<line x1="400.80" y1="344.68" x2="420.50" y2="344.68" stroke="#333" stroke-width="1.2" />
<rect x="408.25" y="342.33" width="4.69" height="4.69" fill="#111"/>
<text x="423.50" y="348.58" font-size="10.9" font-weight="normal" text-anchor="start" fill="#222" >Daudi</text>
<line x1="400.80" y1="360.41" x2="420.50" y2="360.41" stroke="#333" stroke-width="1.2" />
<polygon points="410.60,357.10 407.70,362.62 413.50,362.62" fill="#fff" stroke="#111" stroke-width="1.6" stroke-linejoin="miter"/>
<text x="423.50" y="364.31" font-size="10.9" font-weight="normal" text-anchor="start" fill="#222" >Sample #1</text>
<line x1="400.80" y1="376.14" x2="420.50" y2="376.14" stroke="#333" stroke-width="1.2" />
<polygon points="410.60,373.11 407.94,378.16 413.26,378.16" fill="#111"/>
<text x="423.50" y="380.04" font-size="10.9" font-weight="normal" text-anchor="start" fill="#222" >Sample #2</text>
<line x1="400.80" y1="391.87" x2="420.50" y2="391.87" stroke="#333" stroke-width="1.2" />
<circle cx="410.60" cy="391.87" r="2.59" fill="#111"/>
<text x="423.50" y="395.77" font-size="10.9" font-weight="normal" text-anchor="start" fill="#222" >Sample #3</text>
<line x1="400.80" y1="407.60" x2="420.50" y2="407.60" stroke="#333" stroke-width="1.2" />
<rect x="408.04" y="405.04" width="5.12" height="5.12" fill="#fff" stroke="#111" stroke-width="1.6"/>
<text x="423.50" y="411.50" font-size="10.9" font-weight="normal" text-anchor="start" fill="#222" >Sample #4</text>
<text x="3.40" y="580.00" font-size="23.5" font-weight="bold" text-anchor="start" fill="#000" >D</text>
<text x="25.20" y="593.00" font-size="12" font-weight="normal" text-anchor="start" fill="#222" textLength="31.8" lengthAdjust="spacingAndGlyphs" >Blood</text>
<path d="M83.7,633.0h1.3v1.3h-1.3zM83.8,630.3h1.3v1.3h-1.3zM80.6,630.7h1.3v1.3h-1.3zM90.0,632.7h1.3v1.3h-1.3zM89.6,632.1h1.3v1.3h-1.3zM86.7,631.9h1.3v1.3h-1.3zM77.2,634.1h1.3v1.3h-1.3zM87.2,632.9h1.3v1.3h-1.3zM77.1,625.8h1.3v1.3h-1.3zM80.8,629.9h1.3v1.3h-1.3zM86.3,631.2h1.3v1.3h-1.3zM87.2,629.3h1.3v1.3h-1.3zM86.3,632.6h1.3v1.3h-1.3zM81.8,636.8h1.3v1.3h-1.3zM87.4,635.2h1.3v1.3h-1.3zM82.0,629.0h1.3v1.3h-1.3zM83.3,631.0h1.3v1.3h-1.3zM87.8,632.1h1.3v1.3h-1.3zM82.8,628.3h1.3v1.3h-1.3zM82.5,635.3h1.3v1.3h-1.3zM81.1,632.1h1.3v1.3h-1.3zM86.8,626.6h1.3v1.3h-1.3zM85.1,635.5h1.3v1.3h-1.3zM75.6,630.3h1.3v1.3h-1.3zM84.4,628.7h1.3v1.3h-1.3zM87.1,631.2h1.3v1.3h-1.3zM78.1,634.0h1.3v1.3h-1.3zM87.9,634.4h1.3v1.3h-1.3zM91.5,632.5h1.3v1.3h-1.3zM85.4,627.2h1.3v1.3h-1.3zM87.7,629.4h1.3v1.3h-1.3zM82.8,627.3h1.3v1.3h-1.3zM80.4,629.7h1.3v1.3h-1.3zM90.8,624.8h1.3v1.3h-1.3zM78.1,632.1h1.3v1.3h-1.3zM91.5,633.2h1.3v1.3h-1.3zM76.1,623.3h1.3v1.3h-1.3zM86.5,629.0h1.3v1.3h-1.3zM79.7,634.5h1.3v1.3h-1.3zM89.9,631.9h1.3v1.3h-1.3zM86.0,632.7h1.3v1.3h-1.3zM92.2,633.3h1.3v1.3h-1.3zM87.2,633.1h1.3v1.3h-1.3zM77.6,635.5h1.3v1.3h-1.3zM89.2,633.0h1.3v1.3h-1.3zM75.8,629.3h1.3v1.3h-1.3zM88.7,625.6h1.3v1.3h-1.3zM84.0,634.6h1.3v1.3h-1.3zM78.8,636.5h1.3v1.3h-1.3zM87.4,630.9h1.3v1.3h-1.3zM86.3,633.4h1.3v1.3h-1.3zM85.4,635.0h1.3v1.3h-1.3zM81.8,630.0h1.3v1.3h-1.3zM89.6,631.4h1.3v1.3h-1.3zM80.8,634.4h1.3v1.3h-1.3zM91.6,629.9h1.3v1.3h-1.3zM78.5,630.9h1.3v1.3h-1.3zM84.2,630.4h1.3v1.3h-1.3zM91.3,628.1h1.3v1.3h-1.3zM90.6,627.3h1.3v1.3h-1.3zM81.2,633.4h1.3v1.3h-1.3zM90.0,634.1h1.3v1.3h-1.3zM86.4,631.8h1.3v1.3h-1.3zM85.6,633.2h1.3v1.3h-1.3zM84.0,632.2h1.3v1.3h-1.3zM87.5,631.4h1.3v1.3h-1.3zM88.4,633.2h1.3v1.3h-1.3zM94.1,632.4h1.3v1.3h-1.3zM82.9,630.2h1.3v1.3h-1.3zM84.8,634.3h1.3v1.3h-1.3zM83.3,632.6h1.3v1.3h-1.3zM93.3,623.1h1.3v1.3h-1.3zM79.7,632.1h1.3v1.3h-1.3zM86.7,632.1h1.3v1.3h-1.3zM82.9,633.4h1.3v1.3h-1.3zM86.1,629.7h1.3v1.3h-1.3zM96.0,632.5h1.3v1.3h-1.3zM82.3,631.0h1.3v1.3h-1.3zM83.8,631.1h1.3v1.3h-1.3zM72.3,629.8h1.3v1.3h-1.3zM89.5,627.6h1.3v1.3h-1.3zM84.5,634.4h1.3v1.3h-1.3zM88.8,636.1h1.3v1.3h-1.3zM77.0,630.2h1.3v1.3h-1.3zM83.3,633.3h1.3v1.3h-1.3zM89.9,622.8h1.3v1.3h-1.3zM89.9,626.7h1.3v1.3h-1.3zM88.0,626.6h1.3v1.3h-1.3zM85.7,635.2h1.3v1.3h-1.3zM84.2,632.0h1.3v1.3h-1.3zM88.5,631.8h1.3v1.3h-1.3zM84.4,636.3h1.3v1.3h-1.3zM89.7,630.4h1.3v1.3h-1.3zM97.5,627.7h1.3v1.3h-1.3zM89.1,630.5h1.3v1.3h-1.3zM85.5,633.6h1.3v1.3h-1.3zM85.9,633.4h1.3v1.3h-1.3zM77.8,626.5h1.3v1.3h-1.3zM87.7,628.3h1.3v1.3h-1.3zM80.1,626.6h1.3v1.3h-1.3zM90.7,633.7h1.3v1.3h-1.3zM91.6,628.3h1.3v1.3h-1.3zM84.9,627.7h1.3v1.3h-1.3zM88.4,636.4h1.3v1.3h-1.3zM80.8,636.3h1.3v1.3h-1.3zM89.4,630.8h1.3v1.3h-1.3zM75.8,635.9h1.3v1.3h-1.3zM84.4,629.4h1.3v1.3h-1.3zM86.7,632.7h1.3v1.3h-1.3zM91.7,628.1h1.3v1.3h-1.3zM90.1,636.1h1.3v1.3h-1.3zM91.5,630.8h1.3v1.3h-1.3zM81.4,634.6h1.3v1.3h-1.3zM85.4,631.7h1.3v1.3h-1.3zM91.4,630.5h1.3v1.3h-1.3zM74.3,630.1h1.3v1.3h-1.3zM76.3,634.0h1.3v1.3h-1.3zM86.3,629.4h1.3v1.3h-1.3zM84.8,634.0h1.3v1.3h-1.3zM85.2,635.6h1.3v1.3h-1.3zM84.6,634.7h1.3v1.3h-1.3zM91.7,636.5h1.3v1.3h-1.3zM81.8,634.2h1.3v1.3h-1.3zM76.2,627.9h1.3v1.3h-1.3zM75.8,634.8h1.3v1.3h-1.3zM79.2,631.3h1.3v1.3h-1.3zM84.0,631.3h1.3v1.3h-1.3zM82.1,632.1h1.3v1.3h-1.3zM93.1,631.5h1.3v1.3h-1.3zM87.3,634.6h1.3v1.3h-1.3zM83.9,627.3h1.3v1.3h-1.3zM82.3,634.8h1.3v1.3h-1.3zM77.3,629.4h1.3v1.3h-1.3zM89.5,633.9h1.3v1.3h-1.3zM84.9,633.9h1.3v1.3h-1.3zM85.6,627.6h1.3v1.3h-1.3zM77.7,629.3h1.3v1.3h-1.3zM89.1,629.5h1.3v1.3h-1.3zM80.7,628.9h1.3v1.3h-1.3zM77.8,631.0h1.3v1.3h-1.3zM79.4,632.5h1.3v1.3h-1.3zM74.0,632.4h1.3v1.3h-1.3zM81.9,625.1h1.3v1.3h-1.3zM88.2,630.5h1.3v1.3h-1.3zM74.6,628.5h1.3v1.3h-1.3zM86.2,629.9h1.3v1.3h-1.3zM88.4,633.7h1.3v1.3h-1.3zM87.9,632.4h1.3v1.3h-1.3zM91.0,633.5h1.3v1.3h-1.3zM86.9,624.7h1.3v1.3h-1.3zM89.0,635.5h1.3v1.3h-1.3zM83.5,629.8h1.3v1.3h-1.3zM93.8,625.7h1.3v1.3h-1.3zM87.0,639.1h1.3v1.3h-1.3zM80.6,633.6h1.3v1.3h-1.3zM93.5,631.0h1.3v1.3h-1.3zM87.4,634.2h1.3v1.3h-1.3zM80.7,631.1h1.3v1.3h-1.3zM86.2,634.0h1.3v1.3h-1.3zM84.7,630.7h1.3v1.3h-1.3zM80.2,630.2h1.3v1.3h-1.3zM89.0,631.7h1.3v1.3h-1.3zM80.9,628.7h1.3v1.3h-1.3zM97.1,635.0h1.3v1.3h-1.3zM87.8,623.1h1.3v1.3h-1.3zM87.7,632.9h1.3v1.3h-1.3zM92.6,632.7h1.3v1.3h-1.3zM84.5,633.0h1.3v1.3h-1.3zM75.9,634.7h1.3v1.3h-1.3zM86.3,629.1h1.3v1.3h-1.3zM90.9,637.1h1.3v1.3h-1.3zM78.4,629.2h1.3v1.3h-1.3zM86.2,631.9h1.3v1.3h-1.3zM83.0,628.2h1.3v1.3h-1.3zM94.6,634.7h1.3v1.3h-1.3zM79.4,627.0h1.3v1.3h-1.3zM92.7,634.5h1.3v1.3h-1.3zM93.2,633.9h1.3v1.3h-1.3zM80.8,632.2h1.3v1.3h-1.3zM74.9,629.0h1.3v1.3h-1.3zM84.6,633.0h1.3v1.3h-1.3zM81.5,631.0h1.3v1.3h-1.3zM87.0,632.6h1.3v1.3h-1.3zM87.8,632.0h1.3v1.3h-1.3zM83.4,633.9h1.3v1.3h-1.3zM85.1,628.7h1.3v1.3h-1.3zM82.0,631.3h1.3v1.3h-1.3zM84.3,631.9h1.3v1.3h-1.3zM84.8,631.9h1.3v1.3h-1.3zM84.2,627.3h1.3v1.3h-1.3zM88.5,637.8h1.3v1.3h-1.3zM88.6,630.2h1.3v1.3h-1.3zM88.8,625.5h1.3v1.3h-1.3zM68.3,631.7h1.3v1.3h-1.3zM76.7,635.8h1.3v1.3h-1.3zM75.4,615.4h1.3v1.3h-1.3zM75.8,640.9h1.3v1.3h-1.3zM81.5,623.0h1.3v1.3h-1.3zM78.2,634.5h1.3v1.3h-1.3zM89.2,632.4h1.3v1.3h-1.3zM97.8,635.6h1.3v1.3h-1.3zM84.7,635.0h1.3v1.3h-1.3zM99.3,637.3h1.3v1.3h-1.3zM93.8,624.8h1.3v1.3h-1.3zM83.6,635.8h1.3v1.3h-1.3zM82.3,637.8h1.3v1.3h-1.3zM90.1,636.9h1.3v1.3h-1.3zM83.0,646.8h1.3v1.3h-1.3zM95.7,630.0h1.3v1.3h-1.3zM85.6,647.1h1.3v1.3h-1.3zM81.9,636.7h1.3v1.3h-1.3zM93.4,631.4h1.3v1.3h-1.3zM74.6,632.5h1.3v1.3h-1.3zM88.0,638.2h1.3v1.3h-1.3zM91.7,631.5h1.3v1.3h-1.3zM92.3,634.6h1.3v1.3h-1.3zM86.7,631.7h1.3v1.3h-1.3zM82.7,635.5h1.3v1.3h-1.3zM75.6,627.5h1.3v1.3h-1.3zM84.9,622.4h1.3v1.3h-1.3zM81.0,619.1h1.3v1.3h-1.3zM78.9,634.8h1.3v1.3h-1.3zM89.8,631.0h1.3v1.3h-1.3zM82.8,622.7h1.3v1.3h-1.3zM100.8,634.5h1.3v1.3h-1.3zM94.4,626.0h1.3v1.3h-1.3zM83.2,620.3h1.3v1.3h-1.3zM91.7,637.0h1.3v1.3h-1.3zM68.3,631.0h1.3v1.3h-1.3zM90.4,620.6h1.3v1.3h-1.3zM68.9,624.9h1.3v1.3h-1.3zM79.4,622.8h1.3v1.3h-1.3zM85.1,632.9h1.3v1.3h-1.3zM90.4,635.6h1.3v1.3h-1.3zM98.0,638.4h1.3v1.3h-1.3zM73.4,628.3h1.3v1.3h-1.3zM75.6,624.8h1.3v1.3h-1.3zM84.1,631.4h1.3v1.3h-1.3zM89.1,621.7h1.3v1.3h-1.3zM74.0,631.2h1.3v1.3h-1.3zM83.1,629.5h1.3v1.3h-1.3zM84.3,626.7h1.3v1.3h-1.3zM91.0,633.5h1.3v1.3h-1.3zM84.1,627.3h1.3v1.3h-1.3zM83.3,614.8h1.3v1.3h-1.3zM76.3,631.6h1.3v1.3h-1.3zM71.7,632.6h1.3v1.3h-1.3zM86.1,623.0h1.3v1.3h-1.3zM82.7,629.4h1.3v1.3h-1.3zM88.9,635.1h1.3v1.3h-1.3zM46.7,651.8h1.3v1.3h-1.3zM46.2,654.6h1.3v1.3h-1.3zM50.0,655.9h1.3v1.3h-1.3zM43.7,650.0h1.3v1.3h-1.3zM45.2,652.2h1.3v1.3h-1.3zM42.1,654.4h1.3v1.3h-1.3zM44.7,655.2h1.3v1.3h-1.3zM49.1,653.4h1.3v1.3h-1.3zM56.8,653.7h1.3v1.3h-1.3zM51.6,655.3h1.3v1.3h-1.3zM51.6,646.3h1.3v1.3h-1.3zM43.6,655.7h1.3v1.3h-1.3zM49.4,663.3h1.3v1.3h-1.3zM48.2,659.5h1.3v1.3h-1.3zM50.1,658.3h1.3v1.3h-1.3zM49.0,654.3h1.3v1.3h-1.3zM49.0,651.0h1.3v1.3h-1.3zM51.9,651.2h1.3v1.3h-1.3zM47.9,662.5h1.3v1.3h-1.3zM45.9,654.9h1.3v1.3h-1.3zM51.9,654.9h1.3v1.3h-1.3zM43.4,655.8h1.3v1.3h-1.3zM49.4,657.4h1.3v1.3h-1.3zM43.5,661.2h1.3v1.3h-1.3zM54.0,654.9h1.3v1.3h-1.3zM48.0,653.3h1.3v1.3h-1.3zM52.9,652.3h1.3v1.3h-1.3zM49.7,653.1h1.3v1.3h-1.3zM43.9,657.4h1.3v1.3h-1.3zM52.6,654.8h1.3v1.3h-1.3zM43.9,657.8h1.3v1.3h-1.3zM46.6,656.0h1.3v1.3h-1.3zM53.4,658.9h1.3v1.3h-1.3zM44.6,663.1h1.3v1.3h-1.3zM46.9,657.7h1.3v1.3h-1.3zM44.1,654.7h1.3v1.3h-1.3zM39.3,661.3h1.3v1.3h-1.3zM52.7,650.5h1.3v1.3h-1.3zM40.4,649.0h1.3v1.3h-1.3zM51.9,653.2h1.3v1.3h-1.3zM46.6,653.7h1.3v1.3h-1.3zM46.3,650.9h1.3v1.3h-1.3zM47.0,649.7h1.3v1.3h-1.3zM46.5,656.0h1.3v1.3h-1.3zM48.9,654.0h1.3v1.3h-1.3zM43.0,655.4h1.3v1.3h-1.3zM44.8,660.5h1.3v1.3h-1.3zM50.2,654.4h1.3v1.3h-1.3zM44.8,652.3h1.3v1.3h-1.3zM42.8,653.6h1.3v1.3h-1.3zM48.1,656.7h1.3v1.3h-1.3zM49.3,662.4h1.3v1.3h-1.3zM43.8,654.9h1.3v1.3h-1.3zM58.9,648.1h1.3v1.3h-1.3zM44.6,655.5h1.3v1.3h-1.3zM47.5,656.3h1.3v1.3h-1.3zM45.8,656.2h1.3v1.3h-1.3zM47.1,657.6h1.3v1.3h-1.3zM38.7,651.7h1.3v1.3h-1.3zM46.8,651.1h1.3v1.3h-1.3zM42.4,657.1h1.3v1.3h-1.3zM44.1,657.1h1.3v1.3h-1.3zM50.1,656.0h1.3v1.3h-1.3zM49.0,654.5h1.3v1.3h-1.3zM40.8,654.7h1.3v1.3h-1.3zM48.8,652.9h1.3v1.3h-1.3zM46.4,657.5h1.3v1.3h-1.3zM43.1,657.2h1.3v1.3h-1.3zM54.9,652.9h1.3v1.3h-1.3zM47.5,654.3h1.3v1.3h-1.3zM53.5,656.0h1.3v1.3h-1.3zM50.7,652.4h1.3v1.3h-1.3zM46.8,654.8h1.3v1.3h-1.3zM39.2,660.0h1.3v1.3h-1.3zM50.7,648.6h1.3v1.3h-1.3zM50.1,654.4h1.3v1.3h-1.3zM48.8,656.2h1.3v1.3h-1.3zM40.4,654.1h1.3v1.3h-1.3zM53.3,652.8h1.3v1.3h-1.3zM42.5,650.0h1.3v1.3h-1.3zM41.6,656.1h1.3v1.3h-1.3zM54.1,656.4h1.3v1.3h-1.3zM47.9,662.9h1.3v1.3h-1.3zM44.6,652.4h1.3v1.3h-1.3zM49.1,656.8h1.3v1.3h-1.3zM42.5,650.6h1.3v1.3h-1.3zM48.1,655.7h1.3v1.3h-1.3zM41.2,654.1h1.3v1.3h-1.3zM44.5,656.5h1.3v1.3h-1.3zM46.3,654.5h1.3v1.3h-1.3zM45.3,658.6h1.3v1.3h-1.3zM52.8,653.5h1.3v1.3h-1.3zM50.5,652.1h1.3v1.3h-1.3zM47.2,657.5h1.3v1.3h-1.3zM53.4,653.5h1.3v1.3h-1.3zM46.5,655.6h1.3v1.3h-1.3zM40.4,654.9h1.3v1.3h-1.3zM43.9,656.2h1.3v1.3h-1.3zM42.0,647.7h1.3v1.3h-1.3zM47.0,655.8h1.3v1.3h-1.3zM44.5,658.0h1.3v1.3h-1.3zM45.7,652.7h1.3v1.3h-1.3zM48.9,649.2h1.3v1.3h-1.3zM43.9,654.8h1.3v1.3h-1.3zM50.5,654.3h1.3v1.3h-1.3zM48.2,652.5h1.3v1.3h-1.3zM48.1,660.8h1.3v1.3h-1.3zM43.9,663.4h1.3v1.3h-1.3zM44.1,654.9h1.3v1.3h-1.3zM47.6,658.5h1.3v1.3h-1.3zM41.5,647.3h1.3v1.3h-1.3zM49.5,657.7h1.3v1.3h-1.3zM49.5,664.3h1.3v1.3h-1.3zM47.7,655.8h1.3v1.3h-1.3zM50.8,656.2h1.3v1.3h-1.3zM54.0,650.4h1.3v1.3h-1.3zM45.2,642.4h1.3v1.3h-1.3zM50.3,653.5h1.3v1.3h-1.3zM50.8,662.6h1.3v1.3h-1.3zM46.8,653.9h1.3v1.3h-1.3zM44.7,651.8h1.3v1.3h-1.3zM44.1,657.2h1.3v1.3h-1.3zM47.0,655.1h1.3v1.3h-1.3zM46.1,658.1h1.3v1.3h-1.3zM49.0,654.3h1.3v1.3h-1.3zM49.7,654.3h1.3v1.3h-1.3zM41.9,660.1h1.3v1.3h-1.3zM48.9,651.4h1.3v1.3h-1.3zM51.5,656.1h1.3v1.3h-1.3zM40.1,660.6h1.3v1.3h-1.3zM48.3,658.1h1.3v1.3h-1.3zM47.7,654.3h1.3v1.3h-1.3zM40.2,658.3h1.3v1.3h-1.3zM47.0,653.8h1.3v1.3h-1.3zM48.4,655.1h1.3v1.3h-1.3zM49.8,653.5h1.3v1.3h-1.3zM46.7,647.1h1.3v1.3h-1.3zM45.0,657.3h1.3v1.3h-1.3zM52.6,653.5h1.3v1.3h-1.3zM46.3,660.6h1.3v1.3h-1.3zM45.4,657.5h1.3v1.3h-1.3zM54.1,655.0h1.3v1.3h-1.3zM52.1,652.3h1.3v1.3h-1.3zM47.7,654.6h1.3v1.3h-1.3zM47.3,658.9h1.3v1.3h-1.3zM57.1,652.5h1.3v1.3h-1.3zM44.4,656.6h1.3v1.3h-1.3zM42.3,656.6h1.3v1.3h-1.3zM49.3,653.9h1.3v1.3h-1.3zM49.1,649.3h1.3v1.3h-1.3zM50.1,649.3h1.3v1.3h-1.3zM43.9,652.8h1.3v1.3h-1.3zM45.1,657.9h1.3v1.3h-1.3zM47.2,653.4h1.3v1.3h-1.3zM49.2,660.5h1.3v1.3h-1.3zM46.9,656.2h1.3v1.3h-1.3zM52.2,655.8h1.3v1.3h-1.3zM41.3,663.8h1.3v1.3h-1.3zM56.3,647.7h1.3v1.3h-1.3zM46.7,656.4h1.3v1.3h-1.3zM51.0,657.3h1.3v1.3h-1.3zM45.7,651.1h1.3v1.3h-1.3zM47.3,658.6h1.3v1.3h-1.3zM42.2,651.2h1.3v1.3h-1.3zM46.7,647.9h1.3v1.3h-1.3zM45.7,653.3h1.3v1.3h-1.3zM48.8,652.3h1.3v1.3h-1.3zM43.1,653.4h1.3v1.3h-1.3zM46.6,652.5h1.3v1.3h-1.3zM46.9,657.6h1.3v1.3h-1.3zM56.5,666.5h1.3v1.3h-1.3zM40.4,652.0h1.3v1.3h-1.3zM26.6,667.8h1.3v1.3h-1.3zM40.9,654.6h1.3v1.3h-1.3zM51.1,645.6h1.3v1.3h-1.3zM50.6,654.7h1.3v1.3h-1.3zM31.9,656.8h1.3v1.3h-1.3zM56.6,642.1h1.3v1.3h-1.3zM53.4,656.3h1.3v1.3h-1.3zM50.7,657.9h1.3v1.3h-1.3zM57.5,653.3h1.3v1.3h-1.3zM54.0,652.0h1.3v1.3h-1.3zM52.8,649.3h1.3v1.3h-1.3zM46.0,666.7h1.3v1.3h-1.3zM50.5,653.8h1.3v1.3h-1.3zM37.5,649.4h1.3v1.3h-1.3zM48.4,661.3h1.3v1.3h-1.3zM50.3,658.4h1.3v1.3h-1.3zM46.5,664.1h1.3v1.3h-1.3zM43.7,651.1h1.3v1.3h-1.3zM54.1,655.3h1.3v1.3h-1.3zM44.6,650.9h1.3v1.3h-1.3zM44.8,659.1h1.3v1.3h-1.3zM49.7,646.6h1.3v1.3h-1.3zM50.3,656.1h1.3v1.3h-1.3zM38.7,660.1h1.3v1.3h-1.3zM44.6,652.6h1.3v1.3h-1.3zM53.4,663.9h1.3v1.3h-1.3zM41.2,657.8h1.3v1.3h-1.3zM39.7,670.7h1.3v1.3h-1.3zM42.8,663.0h1.3v1.3h-1.3zM41.6,660.4h1.3v1.3h-1.3zM65.0,637.5h1.3v1.3h-1.3zM43.3,658.3h1.3v1.3h-1.3zM46.1,650.3h1.3v1.3h-1.3zM64.4,655.4h1.3v1.3h-1.3zM33.4,660.7h1.3v1.3h-1.3zM32.8,662.7h1.3v1.3h-1.3zM42.1,655.8h1.3v1.3h-1.3zM57.2,655.7h1.3v1.3h-1.3zM35.5,643.2h1.3v1.3h-1.3zM56.5,659.9h1.3v1.3h-1.3zM40.2,660.7h1.3v1.3h-1.3zM50.9,659.3h1.3v1.3h-1.3zM28.4,652.8h1.3v1.3h-1.3zM50.6,666.3h1.3v1.3h-1.3zM50.6,653.5h1.3v1.3h-1.3zM48.8,665.3h1.3v1.3h-1.3zM54.7,659.5h1.3v1.3h-1.3zM47.5,663.5h1.3v1.3h-1.3zM50.6,661.6h1.3v1.3h-1.3zM51.2,660.2h1.3v1.3h-1.3zM49.0,661.2h1.3v1.3h-1.3zM48.7,660.6h1.3v1.3h-1.3zM44.4,667.7h1.3v1.3h-1.3zM49.1,661.1h1.3v1.3h-1.3zM48.9,667.3h1.3v1.3h-1.3zM45.9,662.9h1.3v1.3h-1.3zM49.7,665.5h1.3v1.3h-1.3zM47.5,654.9h1.3v1.3h-1.3zM51.5,664.7h1.3v1.3h-1.3zM48.4,662.2h1.3v1.3h-1.3zM49.0,661.6h1.3v1.3h-1.3zM45.8,660.4h1.3v1.3h-1.3zM46.9,660.9h1.3v1.3h-1.3zM45.5,665.9h1.3v1.3h-1.3zM45.1,666.0h1.3v1.3h-1.3zM45.8,664.8h1.3v1.3h-1.3zM51.8,664.2h1.3v1.3h-1.3zM46.5,663.5h1.3v1.3h-1.3zM49.4,675.4h1.3v1.3h-1.3zM49.9,682.4h1.3v1.3h-1.3zM46.4,669.4h1.3v1.3h-1.3zM35.4,649.4h1.3v1.3h-1.3zM32.4,654.4h1.3v1.3h-1.3zM69.3,655.4h1.3v1.3h-1.3zM74.3,653.4h1.3v1.3h-1.3zM67.3,647.4h1.3v1.3h-1.3z" fill="#111"/>
<rect x="24.60" y="597.50" width="102.70" height="90.50" fill="none" stroke="#151515" stroke-width="1.25"/>
<line x1="61.10" y1="597.50" x2="61.10" y2="688.00" stroke="#151515" stroke-width="1.25" />
<line x1="24.60" y1="649.50" x2="127.30" y2="649.50" stroke="#151515" stroke-width="1.25" />
<path d="M24.60,688.00v5.50M24.60,688.00h-5.50M32.33,688.00v2.60M24.60,681.19h-2.60M36.85,688.00v2.60M24.60,677.21h-2.60M40.06,688.00v2.60M24.60,674.38h-2.60M42.55,688.00v2.60M24.60,672.19h-2.60M44.58,688.00v2.60M24.60,670.39h-2.60M46.30,688.00v2.60M24.60,668.88h-2.60M47.79,688.00v2.60M24.60,667.57h-2.60M49.10,688.00v2.60M24.60,666.41h-2.60M50.27,688.00v5.50M24.60,665.38h-5.50M58.00,688.00v2.60M24.60,658.56h-2.60M62.53,688.00v2.60M24.60,654.58h-2.60M65.73,688.00v2.60M24.60,651.75h-2.60M68.22,688.00v2.60M24.60,649.56h-2.60M70.25,688.00v2.60M24.60,647.77h-2.60M71.97,688.00v2.60M24.60,646.25h-2.60M73.46,688.00v2.60M24.60,644.94h-2.60M74.78,688.00v2.60M24.60,643.79h-2.60M75.95,688.00v5.50M24.60,642.75h-5.50M83.68,688.00v2.60M24.60,635.94h-2.60M88.20,688.00v2.60M24.60,631.96h-2.60M91.41,688.00v2.60M24.60,629.13h-2.60M93.90,688.00v2.60M24.60,626.94h-2.60M95.93,688.00v2.60M24.60,625.14h-2.60M97.65,688.00v2.60M24.60,623.63h-2.60M99.14,688.00v2.60M24.60,622.32h-2.60M100.45,688.00v2.60M24.60,621.16h-2.60M101.62,688.00v5.50M24.60,620.12h-5.50M109.35,688.00v2.60M24.60,613.31h-2.60M113.88,688.00v2.60M24.60,609.33h-2.60M117.08,688.00v2.60M24.60,606.50h-2.60M119.57,688.00v2.60M24.60,604.31h-2.60M121.60,688.00v2.60M24.60,602.52h-2.60M123.32,688.00v2.60M24.60,601.00h-2.60M124.81,688.00v2.60M24.60,599.69h-2.60M126.13,688.00v2.60M24.60,598.54h-2.60M127.30,688.00v5.5M24.60,597.50h-5.5" stroke="#1a1a1a" stroke-width="1.25" fill="none"/>
<text x="18.10" y="705.0" font-size="11.6" fill="#222" textLength="9.0" lengthAdjust="spacingAndGlyphs">10</text>
<text x="28.00" y="699.4" font-size="11.6" fill="#222" textLength="4.6" lengthAdjust="spacingAndGlyphs">0</text>
<text x="43.77" y="705.0" font-size="11.6" fill="#222" textLength="9.0" lengthAdjust="spacingAndGlyphs">10</text>
<text x="53.67" y="699.4" font-size="11.6" fill="#222" textLength="4.6" lengthAdjust="spacingAndGlyphs">1</text>
<text x="69.45" y="705.0" font-size="11.6" fill="#222" textLength="9.0" lengthAdjust="spacingAndGlyphs">10</text>
<text x="79.35" y="699.4" font-size="11.6" fill="#222" textLength="4.6" lengthAdjust="spacingAndGlyphs">2</text>
<text x="95.12" y="705.0" font-size="11.6" fill="#222" textLength="9.0" lengthAdjust="spacingAndGlyphs">10</text>
<text x="105.03" y="699.4" font-size="11.6" fill="#222" textLength="4.6" lengthAdjust="spacingAndGlyphs">3</text>
<text x="120.80" y="705.0" font-size="11.6" fill="#222" textLength="9.0" lengthAdjust="spacingAndGlyphs">10</text>
<text x="130.70" y="699.4" font-size="11.6" fill="#222" textLength="4.6" lengthAdjust="spacingAndGlyphs">4</text>
<text x="32.00" y="614.70" font-size="20.3" font-weight="bold" text-anchor="start" fill="#111" >i</text>
<line x1="80.50" y1="611.90" x2="127.30" y2="611.90" stroke="#151515" stroke-width="1.3" />
<line x1="103.50" y1="597.50" x2="103.50" y2="625.80" stroke="#151515" stroke-width="1.3" />
<text x="97.50" y="610.70" font-size="11" font-weight="normal" text-anchor="end" fill="#222" >5</text>
<text x="121.50" y="610.70" font-size="11" font-weight="normal" text-anchor="end" fill="#222" >58</text>
<text x="98.70" y="624.60" font-size="11" font-weight="normal" text-anchor="end" fill="#222" >36</text>
<text x="120.00" y="624.60" font-size="11" font-weight="normal" text-anchor="end" fill="#222" >1</text>
<text x="143.20" y="593.00" font-size="12" font-weight="normal" text-anchor="start" fill="#222" textLength="32" lengthAdjust="spacingAndGlyphs" >Clone</text>
<path d="M218.6,639.8h1.3v1.3h-1.3zM214.9,647.0h1.3v1.3h-1.3zM215.6,646.7h1.3v1.3h-1.3zM221.4,649.3h1.3v1.3h-1.3zM222.2,648.6h1.3v1.3h-1.3zM216.5,646.3h1.3v1.3h-1.3zM216.5,645.2h1.3v1.3h-1.3zM217.0,639.8h1.3v1.3h-1.3zM216.3,646.3h1.3v1.3h-1.3zM213.2,646.3h1.3v1.3h-1.3zM220.3,645.7h1.3v1.3h-1.3zM227.8,636.4h1.3v1.3h-1.3zM216.9,639.4h1.3v1.3h-1.3zM222.6,656.4h1.3v1.3h-1.3zM205.8,646.8h1.3v1.3h-1.3zM220.3,645.2h1.3v1.3h-1.3zM220.5,637.8h1.3v1.3h-1.3zM221.9,647.8h1.3v1.3h-1.3zM218.0,644.1h1.3v1.3h-1.3zM220.9,644.5h1.3v1.3h-1.3zM218.9,644.4h1.3v1.3h-1.3zM207.1,646.2h1.3v1.3h-1.3zM218.8,649.2h1.3v1.3h-1.3zM213.6,646.2h1.3v1.3h-1.3zM220.8,646.9h1.3v1.3h-1.3zM223.8,653.9h1.3v1.3h-1.3zM213.5,639.1h1.3v1.3h-1.3zM222.0,652.2h1.3v1.3h-1.3zM222.3,649.4h1.3v1.3h-1.3zM214.9,643.6h1.3v1.3h-1.3zM222.1,642.9h1.3v1.3h-1.3zM209.1,642.6h1.3v1.3h-1.3zM229.8,653.7h1.3v1.3h-1.3zM214.6,643.6h1.3v1.3h-1.3zM219.0,643.5h1.3v1.3h-1.3zM224.1,646.1h1.3v1.3h-1.3zM212.6,651.3h1.3v1.3h-1.3zM215.1,647.2h1.3v1.3h-1.3zM217.8,645.2h1.3v1.3h-1.3zM219.4,643.7h1.3v1.3h-1.3zM209.0,638.0h1.3v1.3h-1.3zM211.8,643.5h1.3v1.3h-1.3zM217.7,646.6h1.3v1.3h-1.3zM220.5,646.8h1.3v1.3h-1.3zM214.0,643.7h1.3v1.3h-1.3zM207.7,645.7h1.3v1.3h-1.3zM220.2,648.4h1.3v1.3h-1.3zM217.3,645.7h1.3v1.3h-1.3zM222.3,646.4h1.3v1.3h-1.3zM221.4,648.6h1.3v1.3h-1.3zM218.9,651.3h1.3v1.3h-1.3zM215.1,645.0h1.3v1.3h-1.3zM214.0,643.3h1.3v1.3h-1.3zM225.3,653.0h1.3v1.3h-1.3zM218.0,648.5h1.3v1.3h-1.3zM223.5,649.4h1.3v1.3h-1.3zM223.6,641.6h1.3v1.3h-1.3zM214.8,648.1h1.3v1.3h-1.3zM224.7,646.7h1.3v1.3h-1.3zM213.7,645.0h1.3v1.3h-1.3zM214.7,643.1h1.3v1.3h-1.3zM225.1,644.0h1.3v1.3h-1.3zM217.9,654.6h1.3v1.3h-1.3zM223.5,647.6h1.3v1.3h-1.3zM214.9,647.9h1.3v1.3h-1.3zM225.6,648.7h1.3v1.3h-1.3zM223.9,646.7h1.3v1.3h-1.3zM220.3,645.6h1.3v1.3h-1.3zM219.9,651.3h1.3v1.3h-1.3zM211.0,646.1h1.3v1.3h-1.3zM219.0,644.2h1.3v1.3h-1.3zM216.4,649.3h1.3v1.3h-1.3zM227.5,648.7h1.3v1.3h-1.3zM219.4,640.5h1.3v1.3h-1.3zM227.1,646.6h1.3v1.3h-1.3zM217.7,642.1h1.3v1.3h-1.3zM217.6,642.2h1.3v1.3h-1.3zM218.2,648.1h1.3v1.3h-1.3zM218.0,647.4h1.3v1.3h-1.3zM213.8,651.8h1.3v1.3h-1.3zM214.7,639.4h1.3v1.3h-1.3zM216.9,643.4h1.3v1.3h-1.3zM213.0,645.0h1.3v1.3h-1.3zM219.2,641.9h1.3v1.3h-1.3zM217.2,651.8h1.3v1.3h-1.3zM221.1,645.8h1.3v1.3h-1.3zM218.5,645.9h1.3v1.3h-1.3zM217.6,649.1h1.3v1.3h-1.3zM217.4,637.2h1.3v1.3h-1.3zM217.7,643.0h1.3v1.3h-1.3zM221.0,644.0h1.3v1.3h-1.3zM218.6,654.6h1.3v1.3h-1.3zM212.8,642.1h1.3v1.3h-1.3zM211.1,637.2h1.3v1.3h-1.3zM208.8,647.7h1.3v1.3h-1.3zM214.8,639.3h1.3v1.3h-1.3zM210.7,648.7h1.3v1.3h-1.3zM214.1,645.0h1.3v1.3h-1.3zM219.4,651.5h1.3v1.3h-1.3zM227.2,650.3h1.3v1.3h-1.3zM218.5,647.0h1.3v1.3h-1.3zM226.5,651.8h1.3v1.3h-1.3zM216.4,648.1h1.3v1.3h-1.3zM219.2,646.5h1.3v1.3h-1.3zM215.4,641.3h1.3v1.3h-1.3zM215.3,640.5h1.3v1.3h-1.3zM223.7,648.4h1.3v1.3h-1.3zM212.1,651.7h1.3v1.3h-1.3zM222.1,639.1h1.3v1.3h-1.3zM226.7,649.4h1.3v1.3h-1.3zM227.8,641.7h1.3v1.3h-1.3zM220.4,648.0h1.3v1.3h-1.3zM218.8,647.0h1.3v1.3h-1.3zM222.9,640.7h1.3v1.3h-1.3zM211.9,641.1h1.3v1.3h-1.3zM215.2,644.0h1.3v1.3h-1.3zM219.6,647.4h1.3v1.3h-1.3zM218.0,643.8h1.3v1.3h-1.3zM215.7,650.0h1.3v1.3h-1.3zM221.5,646.7h1.3v1.3h-1.3zM216.3,652.3h1.3v1.3h-1.3zM215.0,648.8h1.3v1.3h-1.3zM223.4,645.3h1.3v1.3h-1.3zM221.8,642.1h1.3v1.3h-1.3zM222.7,647.1h1.3v1.3h-1.3zM210.2,648.9h1.3v1.3h-1.3zM213.6,651.2h1.3v1.3h-1.3zM214.6,645.7h1.3v1.3h-1.3zM219.2,645.1h1.3v1.3h-1.3zM219.1,644.2h1.3v1.3h-1.3zM221.1,646.4h1.3v1.3h-1.3zM218.9,635.9h1.3v1.3h-1.3zM223.4,646.5h1.3v1.3h-1.3zM209.3,646.7h1.3v1.3h-1.3zM220.1,650.4h1.3v1.3h-1.3zM212.7,652.2h1.3v1.3h-1.3zM217.1,655.5h1.3v1.3h-1.3zM217.1,648.9h1.3v1.3h-1.3zM216.1,642.1h1.3v1.3h-1.3zM223.1,649.8h1.3v1.3h-1.3zM225.2,649.6h1.3v1.3h-1.3zM215.1,640.0h1.3v1.3h-1.3zM214.7,643.8h1.3v1.3h-1.3zM213.9,648.6h1.3v1.3h-1.3zM219.4,645.3h1.3v1.3h-1.3zM218.7,645.8h1.3v1.3h-1.3zM218.9,649.2h1.3v1.3h-1.3zM222.5,643.7h1.3v1.3h-1.3zM210.6,651.8h1.3v1.3h-1.3zM218.4,650.6h1.3v1.3h-1.3zM210.0,645.1h1.3v1.3h-1.3zM218.0,640.9h1.3v1.3h-1.3zM215.4,649.1h1.3v1.3h-1.3zM223.0,652.4h1.3v1.3h-1.3zM213.7,641.0h1.3v1.3h-1.3zM220.3,649.9h1.3v1.3h-1.3zM218.8,641.4h1.3v1.3h-1.3zM221.6,649.4h1.3v1.3h-1.3zM220.5,644.5h1.3v1.3h-1.3zM219.3,649.4h1.3v1.3h-1.3zM215.2,639.3h1.3v1.3h-1.3zM219.4,648.2h1.3v1.3h-1.3zM217.9,649.7h1.3v1.3h-1.3zM215.0,646.0h1.3v1.3h-1.3zM216.4,648.5h1.3v1.3h-1.3zM225.5,645.4h1.3v1.3h-1.3zM227.7,652.2h1.3v1.3h-1.3zM221.6,648.6h1.3v1.3h-1.3zM226.3,645.7h1.3v1.3h-1.3zM217.3,642.3h1.3v1.3h-1.3zM220.1,651.5h1.3v1.3h-1.3zM220.4,648.0h1.3v1.3h-1.3zM216.9,647.0h1.3v1.3h-1.3zM211.0,650.3h1.3v1.3h-1.3zM215.9,642.2h1.3v1.3h-1.3zM214.2,643.2h1.3v1.3h-1.3zM222.0,650.4h1.3v1.3h-1.3zM211.3,649.9h1.3v1.3h-1.3zM222.1,644.1h1.3v1.3h-1.3zM210.7,643.5h1.3v1.3h-1.3zM214.8,647.7h1.3v1.3h-1.3zM216.1,638.6h1.3v1.3h-1.3zM219.0,640.5h1.3v1.3h-1.3zM222.2,641.8h1.3v1.3h-1.3zM214.5,643.1h1.3v1.3h-1.3zM215.2,651.3h1.3v1.3h-1.3zM221.9,648.6h1.3v1.3h-1.3zM219.4,640.5h1.3v1.3h-1.3zM215.4,644.3h1.3v1.3h-1.3zM213.2,648.3h1.3v1.3h-1.3zM214.3,643.7h1.3v1.3h-1.3zM212.8,638.5h1.3v1.3h-1.3zM220.7,651.4h1.3v1.3h-1.3zM218.7,642.6h1.3v1.3h-1.3zM204.9,647.0h1.3v1.3h-1.3zM223.7,647.5h1.3v1.3h-1.3zM222.3,652.0h1.3v1.3h-1.3zM223.3,644.7h1.3v1.3h-1.3zM222.9,649.3h1.3v1.3h-1.3zM210.5,644.8h1.3v1.3h-1.3zM211.0,645.9h1.3v1.3h-1.3zM220.6,642.3h1.3v1.3h-1.3zM208.0,651.3h1.3v1.3h-1.3zM219.7,651.9h1.3v1.3h-1.3zM211.5,650.4h1.3v1.3h-1.3zM227.8,654.0h1.3v1.3h-1.3zM216.8,647.4h1.3v1.3h-1.3zM217.1,650.1h1.3v1.3h-1.3zM222.8,646.7h1.3v1.3h-1.3zM211.3,649.2h1.3v1.3h-1.3zM215.6,648.7h1.3v1.3h-1.3zM219.1,652.5h1.3v1.3h-1.3zM223.3,644.6h1.3v1.3h-1.3zM219.5,653.1h1.3v1.3h-1.3zM215.3,648.0h1.3v1.3h-1.3zM223.6,651.1h1.3v1.3h-1.3zM220.3,641.3h1.3v1.3h-1.3zM211.8,647.3h1.3v1.3h-1.3zM219.7,656.0h1.3v1.3h-1.3zM213.7,650.7h1.3v1.3h-1.3zM221.5,640.0h1.3v1.3h-1.3zM213.9,647.0h1.3v1.3h-1.3zM215.5,645.8h1.3v1.3h-1.3zM220.1,643.3h1.3v1.3h-1.3zM220.1,643.9h1.3v1.3h-1.3zM215.2,648.4h1.3v1.3h-1.3zM215.1,647.4h1.3v1.3h-1.3zM225.5,646.5h1.3v1.3h-1.3zM217.1,649.1h1.3v1.3h-1.3zM216.1,650.5h1.3v1.3h-1.3zM211.7,648.7h1.3v1.3h-1.3zM215.4,643.3h1.3v1.3h-1.3zM226.3,643.1h1.3v1.3h-1.3zM226.3,648.9h1.3v1.3h-1.3zM224.8,642.6h1.3v1.3h-1.3zM223.6,651.9h1.3v1.3h-1.3zM217.3,645.9h1.3v1.3h-1.3zM229.6,647.0h1.3v1.3h-1.3zM215.8,644.0h1.3v1.3h-1.3zM220.0,647.6h1.3v1.3h-1.3zM218.7,652.9h1.3v1.3h-1.3zM216.3,648.1h1.3v1.3h-1.3zM224.9,642.5h1.3v1.3h-1.3zM222.8,653.3h1.3v1.3h-1.3zM211.3,642.2h1.3v1.3h-1.3zM212.9,639.3h1.3v1.3h-1.3zM220.0,639.3h1.3v1.3h-1.3zM220.2,651.9h1.3v1.3h-1.3zM210.1,645.1h1.3v1.3h-1.3zM208.6,649.3h1.3v1.3h-1.3zM214.3,645.3h1.3v1.3h-1.3zM218.1,648.4h1.3v1.3h-1.3zM216.2,646.4h1.3v1.3h-1.3zM215.2,646.8h1.3v1.3h-1.3zM212.2,646.6h1.3v1.3h-1.3zM208.6,644.5h1.3v1.3h-1.3zM227.0,646.7h1.3v1.3h-1.3zM211.8,647.3h1.3v1.3h-1.3zM213.2,640.1h1.3v1.3h-1.3zM214.3,649.2h1.3v1.3h-1.3zM219.7,646.0h1.3v1.3h-1.3zM213.4,642.3h1.3v1.3h-1.3zM224.3,647.3h1.3v1.3h-1.3zM213.3,638.3h1.3v1.3h-1.3zM211.3,655.8h1.3v1.3h-1.3zM212.3,646.1h1.3v1.3h-1.3zM218.9,645.8h1.3v1.3h-1.3zM216.5,641.1h1.3v1.3h-1.3zM212.8,652.8h1.3v1.3h-1.3zM214.2,649.6h1.3v1.3h-1.3zM209.7,645.3h1.3v1.3h-1.3zM219.1,650.3h1.3v1.3h-1.3zM212.5,648.6h1.3v1.3h-1.3zM219.7,643.5h1.3v1.3h-1.3zM220.1,642.9h1.3v1.3h-1.3zM214.0,646.3h1.3v1.3h-1.3zM204.8,645.9h1.3v1.3h-1.3zM213.0,640.8h1.3v1.3h-1.3zM215.8,649.2h1.3v1.3h-1.3zM215.9,651.2h1.3v1.3h-1.3zM212.3,641.4h1.3v1.3h-1.3zM225.3,647.9h1.3v1.3h-1.3zM222.4,643.2h1.3v1.3h-1.3zM221.7,647.3h1.3v1.3h-1.3zM221.0,646.4h1.3v1.3h-1.3zM223.6,643.9h1.3v1.3h-1.3zM213.2,640.7h1.3v1.3h-1.3zM223.4,643.5h1.3v1.3h-1.3zM212.8,642.8h1.3v1.3h-1.3zM215.7,641.5h1.3v1.3h-1.3zM216.5,644.0h1.3v1.3h-1.3zM215.2,642.7h1.3v1.3h-1.3zM218.0,644.6h1.3v1.3h-1.3zM218.4,647.3h1.3v1.3h-1.3zM219.5,638.0h1.3v1.3h-1.3zM215.3,643.3h1.3v1.3h-1.3zM221.6,640.4h1.3v1.3h-1.3zM214.4,645.2h1.3v1.3h-1.3zM216.2,650.1h1.3v1.3h-1.3zM215.7,650.0h1.3v1.3h-1.3zM210.8,639.5h1.3v1.3h-1.3zM223.7,648.0h1.3v1.3h-1.3zM220.2,646.8h1.3v1.3h-1.3zM220.2,641.7h1.3v1.3h-1.3zM222.4,644.3h1.3v1.3h-1.3zM222.6,646.7h1.3v1.3h-1.3zM208.4,641.5h1.3v1.3h-1.3zM223.3,645.8h1.3v1.3h-1.3zM216.0,647.3h1.3v1.3h-1.3zM215.8,644.3h1.3v1.3h-1.3zM218.3,646.9h1.3v1.3h-1.3zM225.1,646.5h1.3v1.3h-1.3zM226.9,653.2h1.3v1.3h-1.3zM226.1,650.4h1.3v1.3h-1.3zM218.5,646.9h1.3v1.3h-1.3zM217.2,643.6h1.3v1.3h-1.3zM217.5,643.9h1.3v1.3h-1.3zM225.7,648.4h1.3v1.3h-1.3zM215.7,639.1h1.3v1.3h-1.3zM217.6,644.8h1.3v1.3h-1.3zM212.6,642.0h1.3v1.3h-1.3zM207.0,648.5h1.3v1.3h-1.3zM217.5,656.2h1.3v1.3h-1.3zM217.7,645.8h1.3v1.3h-1.3zM224.8,646.9h1.3v1.3h-1.3zM218.7,644.9h1.3v1.3h-1.3zM214.9,652.0h1.3v1.3h-1.3zM222.7,652.9h1.3v1.3h-1.3zM216.2,646.5h1.3v1.3h-1.3zM213.6,650.0h1.3v1.3h-1.3zM211.2,648.5h1.3v1.3h-1.3zM223.1,651.7h1.3v1.3h-1.3zM213.3,650.5h1.3v1.3h-1.3zM214.4,643.5h1.3v1.3h-1.3zM211.5,650.7h1.3v1.3h-1.3zM225.8,644.1h1.3v1.3h-1.3zM214.2,645.1h1.3v1.3h-1.3zM229.9,650.2h1.3v1.3h-1.3zM215.2,639.5h1.3v1.3h-1.3zM214.6,650.9h1.3v1.3h-1.3zM226.8,645.3h1.3v1.3h-1.3zM214.5,644.4h1.3v1.3h-1.3zM208.8,649.8h1.3v1.3h-1.3zM212.6,650.4h1.3v1.3h-1.3zM209.7,641.5h1.3v1.3h-1.3zM219.2,643.4h1.3v1.3h-1.3zM221.6,646.4h1.3v1.3h-1.3zM212.2,648.7h1.3v1.3h-1.3zM221.9,639.1h1.3v1.3h-1.3zM226.6,648.2h1.3v1.3h-1.3zM221.5,639.3h1.3v1.3h-1.3zM214.4,645.0h1.3v1.3h-1.3zM223.0,640.8h1.3v1.3h-1.3zM213.6,638.6h1.3v1.3h-1.3zM216.7,647.7h1.3v1.3h-1.3zM209.8,644.1h1.3v1.3h-1.3zM220.3,652.4h1.3v1.3h-1.3zM221.0,645.2h1.3v1.3h-1.3zM212.2,642.8h1.3v1.3h-1.3zM214.7,646.9h1.3v1.3h-1.3zM217.6,652.7h1.3v1.3h-1.3zM219.2,642.3h1.3v1.3h-1.3zM225.3,650.0h1.3v1.3h-1.3zM218.3,643.6h1.3v1.3h-1.3zM208.9,642.5h1.3v1.3h-1.3zM222.2,643.3h1.3v1.3h-1.3zM211.5,647.1h1.3v1.3h-1.3zM219.0,648.7h1.3v1.3h-1.3zM221.0,651.7h1.3v1.3h-1.3zM213.8,650.1h1.3v1.3h-1.3zM213.1,649.0h1.3v1.3h-1.3zM218.7,647.3h1.3v1.3h-1.3zM222.5,646.3h1.3v1.3h-1.3zM223.2,649.7h1.3v1.3h-1.3zM218.5,644.2h1.3v1.3h-1.3zM214.2,644.3h1.3v1.3h-1.3zM216.9,646.3h1.3v1.3h-1.3zM232.2,648.8h1.3v1.3h-1.3zM221.5,643.1h1.3v1.3h-1.3zM214.4,645.1h1.3v1.3h-1.3zM218.8,642.4h1.3v1.3h-1.3zM225.6,644.2h1.3v1.3h-1.3zM223.0,637.5h1.3v1.3h-1.3zM217.8,647.4h1.3v1.3h-1.3zM218.8,648.6h1.3v1.3h-1.3zM219.2,647.0h1.3v1.3h-1.3zM208.8,643.6h1.3v1.3h-1.3zM206.6,648.7h1.3v1.3h-1.3zM219.3,645.6h1.3v1.3h-1.3zM213.9,644.1h1.3v1.3h-1.3zM226.7,652.9h1.3v1.3h-1.3zM217.6,651.2h1.3v1.3h-1.3zM210.2,639.0h1.3v1.3h-1.3zM215.5,643.0h1.3v1.3h-1.3zM215.2,647.1h1.3v1.3h-1.3zM232.4,643.8h1.3v1.3h-1.3zM218.1,647.4h1.3v1.3h-1.3zM217.7,649.9h1.3v1.3h-1.3zM226.4,641.6h1.3v1.3h-1.3zM218.6,645.3h1.3v1.3h-1.3zM219.6,640.5h1.3v1.3h-1.3zM209.4,637.5h1.3v1.3h-1.3zM220.4,647.1h1.3v1.3h-1.3zM218.2,637.4h1.3v1.3h-1.3zM216.1,643.5h1.3v1.3h-1.3zM211.1,642.9h1.3v1.3h-1.3zM221.2,648.4h1.3v1.3h-1.3zM217.7,648.3h1.3v1.3h-1.3zM215.0,646.6h1.3v1.3h-1.3zM218.0,648.5h1.3v1.3h-1.3zM217.5,645.8h1.3v1.3h-1.3zM217.2,643.9h1.3v1.3h-1.3zM228.6,648.3h1.3v1.3h-1.3zM219.9,655.1h1.3v1.3h-1.3zM224.6,640.4h1.3v1.3h-1.3zM221.2,649.5h1.3v1.3h-1.3zM226.9,651.3h1.3v1.3h-1.3zM221.5,641.9h1.3v1.3h-1.3zM213.7,647.4h1.3v1.3h-1.3zM220.3,642.5h1.3v1.3h-1.3zM216.0,644.8h1.3v1.3h-1.3zM218.1,647.6h1.3v1.3h-1.3zM216.5,641.7h1.3v1.3h-1.3zM223.8,652.4h1.3v1.3h-1.3zM217.3,650.2h1.3v1.3h-1.3zM220.0,648.9h1.3v1.3h-1.3zM220.2,643.4h1.3v1.3h-1.3zM220.6,650.2h1.3v1.3h-1.3zM213.5,653.8h1.3v1.3h-1.3zM227.9,653.3h1.3v1.3h-1.3zM227.4,649.2h1.3v1.3h-1.3zM216.2,644.1h1.3v1.3h-1.3zM213.9,646.8h1.3v1.3h-1.3zM217.7,648.9h1.3v1.3h-1.3zM208.2,655.1h1.3v1.3h-1.3zM228.8,646.2h1.3v1.3h-1.3zM221.1,648.2h1.3v1.3h-1.3zM219.2,645.6h1.3v1.3h-1.3zM217.3,643.2h1.3v1.3h-1.3zM218.7,646.3h1.3v1.3h-1.3zM219.4,643.1h1.3v1.3h-1.3zM218.0,646.5h1.3v1.3h-1.3zM220.8,642.3h1.3v1.3h-1.3zM219.9,650.1h1.3v1.3h-1.3zM220.7,644.9h1.3v1.3h-1.3zM215.5,645.5h1.3v1.3h-1.3zM221.4,652.3h1.3v1.3h-1.3zM217.1,643.9h1.3v1.3h-1.3zM219.7,647.1h1.3v1.3h-1.3zM213.5,643.5h1.3v1.3h-1.3zM217.4,648.9h1.3v1.3h-1.3zM212.1,642.5h1.3v1.3h-1.3zM220.2,641.7h1.3v1.3h-1.3zM218.4,647.7h1.3v1.3h-1.3zM217.3,642.5h1.3v1.3h-1.3zM217.6,645.1h1.3v1.3h-1.3zM219.5,643.2h1.3v1.3h-1.3zM223.1,640.0h1.3v1.3h-1.3zM217.0,646.4h1.3v1.3h-1.3zM222.5,644.0h1.3v1.3h-1.3zM220.5,644.2h1.3v1.3h-1.3zM221.4,653.0h1.3v1.3h-1.3zM215.9,648.0h1.3v1.3h-1.3zM213.4,650.0h1.3v1.3h-1.3zM223.7,646.5h1.3v1.3h-1.3zM212.4,647.9h1.3v1.3h-1.3zM223.4,650.5h1.3v1.3h-1.3zM221.8,639.4h1.3v1.3h-1.3zM214.6,651.8h1.3v1.3h-1.3zM212.0,650.6h1.3v1.3h-1.3zM226.9,649.2h1.3v1.3h-1.3zM223.2,645.1h1.3v1.3h-1.3zM212.0,646.0h1.3v1.3h-1.3zM216.9,646.2h1.3v1.3h-1.3zM221.2,645.8h1.3v1.3h-1.3zM218.8,648.0h1.3v1.3h-1.3zM217.8,653.4h1.3v1.3h-1.3zM220.0,646.7h1.3v1.3h-1.3zM216.9,644.0h1.3v1.3h-1.3zM224.3,646.9h1.3v1.3h-1.3zM212.7,644.2h1.3v1.3h-1.3zM217.2,644.7h1.3v1.3h-1.3zM223.1,641.9h1.3v1.3h-1.3zM220.2,646.9h1.3v1.3h-1.3zM212.2,646.5h1.3v1.3h-1.3zM217.4,648.3h1.3v1.3h-1.3zM215.7,647.5h1.3v1.3h-1.3zM209.9,642.2h1.3v1.3h-1.3zM221.6,650.3h1.3v1.3h-1.3zM217.8,644.1h1.3v1.3h-1.3zM223.0,638.4h1.3v1.3h-1.3zM214.0,648.9h1.3v1.3h-1.3zM221.0,642.4h1.3v1.3h-1.3zM208.8,651.9h1.3v1.3h-1.3zM218.6,642.9h1.3v1.3h-1.3zM218.1,649.8h1.3v1.3h-1.3zM205.4,650.6h1.3v1.3h-1.3zM221.4,638.4h1.3v1.3h-1.3zM221.6,639.6h1.3v1.3h-1.3zM223.3,647.9h1.3v1.3h-1.3zM228.7,644.0h1.3v1.3h-1.3zM217.9,650.3h1.3v1.3h-1.3zM214.8,643.7h1.3v1.3h-1.3zM216.1,646.1h1.3v1.3h-1.3zM212.7,648.2h1.3v1.3h-1.3zM220.5,646.6h1.3v1.3h-1.3zM226.0,645.1h1.3v1.3h-1.3zM224.1,644.3h1.3v1.3h-1.3zM221.5,639.0h1.3v1.3h-1.3zM218.8,645.7h1.3v1.3h-1.3zM215.5,644.0h1.3v1.3h-1.3zM216.2,643.6h1.3v1.3h-1.3zM207.3,644.1h1.3v1.3h-1.3zM215.2,644.4h1.3v1.3h-1.3zM212.8,645.8h1.3v1.3h-1.3zM221.6,645.4h1.3v1.3h-1.3zM215.5,651.5h1.3v1.3h-1.3zM222.5,649.9h1.3v1.3h-1.3zM223.4,645.1h1.3v1.3h-1.3zM217.2,650.6h1.3v1.3h-1.3zM215.2,645.9h1.3v1.3h-1.3zM219.7,647.8h1.3v1.3h-1.3zM216.5,650.1h1.3v1.3h-1.3zM217.0,649.1h1.3v1.3h-1.3zM223.0,648.9h1.3v1.3h-1.3zM221.4,641.9h1.3v1.3h-1.3zM211.6,644.0h1.3v1.3h-1.3zM220.1,652.1h1.3v1.3h-1.3zM212.0,647.5h1.3v1.3h-1.3zM213.8,643.6h1.3v1.3h-1.3zM216.5,649.0h1.3v1.3h-1.3zM218.9,650.8h1.3v1.3h-1.3zM213.1,649.7h1.3v1.3h-1.3zM222.3,646.6h1.3v1.3h-1.3zM220.1,644.2h1.3v1.3h-1.3zM212.6,644.8h1.3v1.3h-1.3zM214.8,657.3h1.3v1.3h-1.3zM215.5,652.6h1.3v1.3h-1.3zM218.8,647.5h1.3v1.3h-1.3zM221.4,643.4h1.3v1.3h-1.3zM222.2,647.8h1.3v1.3h-1.3zM210.6,648.6h1.3v1.3h-1.3zM220.5,648.1h1.3v1.3h-1.3zM225.5,644.8h1.3v1.3h-1.3zM220.3,649.2h1.3v1.3h-1.3zM213.5,650.9h1.3v1.3h-1.3zM210.9,641.4h1.3v1.3h-1.3zM220.4,642.2h1.3v1.3h-1.3zM217.3,640.1h1.3v1.3h-1.3zM218.2,642.0h1.3v1.3h-1.3zM219.5,640.5h1.3v1.3h-1.3zM220.0,645.3h1.3v1.3h-1.3zM218.2,646.1h1.3v1.3h-1.3zM218.5,641.3h1.3v1.3h-1.3zM205.5,646.5h1.3v1.3h-1.3zM213.4,644.6h1.3v1.3h-1.3zM219.9,638.8h1.3v1.3h-1.3zM214.2,644.0h1.3v1.3h-1.3zM212.8,647.6h1.3v1.3h-1.3zM217.2,643.2h1.3v1.3h-1.3zM213.1,649.4h1.3v1.3h-1.3zM214.7,648.6h1.3v1.3h-1.3zM220.0,639.2h1.3v1.3h-1.3zM212.6,646.4h1.3v1.3h-1.3zM219.5,649.3h1.3v1.3h-1.3zM221.7,650.3h1.3v1.3h-1.3zM216.1,645.6h1.3v1.3h-1.3zM221.6,644.7h1.3v1.3h-1.3zM222.9,640.3h1.3v1.3h-1.3zM221.0,645.7h1.3v1.3h-1.3zM208.4,650.1h1.3v1.3h-1.3zM219.3,646.4h1.3v1.3h-1.3zM212.7,644.6h1.3v1.3h-1.3zM225.1,643.2h1.3v1.3h-1.3zM201.2,643.1h1.3v1.3h-1.3zM212.1,645.8h1.3v1.3h-1.3zM216.0,642.9h1.3v1.3h-1.3zM213.8,650.3h1.3v1.3h-1.3zM210.9,653.8h1.3v1.3h-1.3zM215.2,642.2h1.3v1.3h-1.3zM221.6,648.5h1.3v1.3h-1.3zM212.8,649.2h1.3v1.3h-1.3zM209.0,642.8h1.3v1.3h-1.3zM223.3,645.4h1.3v1.3h-1.3zM211.6,648.3h1.3v1.3h-1.3zM222.3,646.3h1.3v1.3h-1.3zM209.2,645.0h1.3v1.3h-1.3zM219.9,649.3h1.3v1.3h-1.3zM226.7,645.4h1.3v1.3h-1.3zM215.5,646.2h1.3v1.3h-1.3zM223.6,642.8h1.3v1.3h-1.3zM224.1,635.9h1.3v1.3h-1.3zM221.7,643.8h1.3v1.3h-1.3zM220.1,649.0h1.3v1.3h-1.3zM212.2,646.0h1.3v1.3h-1.3zM219.0,648.6h1.3v1.3h-1.3zM213.4,642.6h1.3v1.3h-1.3zM208.6,656.0h1.3v1.3h-1.3zM216.9,645.5h1.3v1.3h-1.3zM210.7,649.9h1.3v1.3h-1.3zM215.3,651.8h1.3v1.3h-1.3zM221.9,646.4h1.3v1.3h-1.3zM221.3,642.1h1.3v1.3h-1.3zM216.3,644.2h1.3v1.3h-1.3zM211.8,646.4h1.3v1.3h-1.3zM217.2,651.8h1.3v1.3h-1.3zM201.8,643.8h1.3v1.3h-1.3zM213.4,644.6h1.3v1.3h-1.3zM219.9,647.9h1.3v1.3h-1.3zM218.0,644.5h1.3v1.3h-1.3zM220.2,647.7h1.3v1.3h-1.3zM209.0,645.4h1.3v1.3h-1.3zM211.3,641.9h1.3v1.3h-1.3zM218.6,646.6h1.3v1.3h-1.3zM218.4,643.0h1.3v1.3h-1.3zM216.9,642.9h1.3v1.3h-1.3zM219.7,649.0h1.3v1.3h-1.3zM226.3,651.2h1.3v1.3h-1.3zM214.0,644.6h1.3v1.3h-1.3zM213.3,647.5h1.3v1.3h-1.3zM227.4,649.0h1.3v1.3h-1.3zM207.3,641.6h1.3v1.3h-1.3zM211.6,648.3h1.3v1.3h-1.3zM217.9,647.5h1.3v1.3h-1.3zM226.4,643.2h1.3v1.3h-1.3zM213.8,653.8h1.3v1.3h-1.3zM219.5,643.4h1.3v1.3h-1.3zM208.1,640.6h1.3v1.3h-1.3zM206.1,646.6h1.3v1.3h-1.3zM218.1,650.1h1.3v1.3h-1.3zM217.2,643.7h1.3v1.3h-1.3zM214.3,653.6h1.3v1.3h-1.3zM209.4,647.0h1.3v1.3h-1.3zM218.0,648.7h1.3v1.3h-1.3zM215.9,648.2h1.3v1.3h-1.3zM221.8,645.8h1.3v1.3h-1.3zM215.7,645.6h1.3v1.3h-1.3zM213.2,645.6h1.3v1.3h-1.3zM216.4,647.1h1.3v1.3h-1.3zM224.3,651.3h1.3v1.3h-1.3zM215.7,648.6h1.3v1.3h-1.3zM219.3,649.2h1.3v1.3h-1.3zM218.0,647.4h1.3v1.3h-1.3zM215.6,643.4h1.3v1.3h-1.3zM222.0,651.3h1.3v1.3h-1.3zM221.0,648.0h1.3v1.3h-1.3zM219.1,644.6h1.3v1.3h-1.3zM209.3,648.9h1.3v1.3h-1.3zM218.8,644.2h1.3v1.3h-1.3zM213.2,651.2h1.3v1.3h-1.3zM201.4,659.1h1.3v1.3h-1.3zM223.7,663.5h1.3v1.3h-1.3zM211.3,646.2h1.3v1.3h-1.3zM213.2,647.5h1.3v1.3h-1.3zM215.9,640.9h1.3v1.3h-1.3zM227.7,640.7h1.3v1.3h-1.3zM213.2,650.4h1.3v1.3h-1.3zM212.9,643.2h1.3v1.3h-1.3zM221.1,643.7h1.3v1.3h-1.3zM206.5,645.6h1.3v1.3h-1.3zM215.8,658.7h1.3v1.3h-1.3zM207.8,653.3h1.3v1.3h-1.3zM210.7,643.8h1.3v1.3h-1.3zM214.9,648.3h1.3v1.3h-1.3zM225.7,659.0h1.3v1.3h-1.3zM212.0,656.0h1.3v1.3h-1.3zM226.9,652.2h1.3v1.3h-1.3zM210.9,652.9h1.3v1.3h-1.3zM216.9,648.9h1.3v1.3h-1.3zM215.4,651.1h1.3v1.3h-1.3zM228.0,654.5h1.3v1.3h-1.3zM216.0,653.5h1.3v1.3h-1.3zM231.1,639.6h1.3v1.3h-1.3zM231.3,636.7h1.3v1.3h-1.3zM222.8,650.6h1.3v1.3h-1.3zM231.4,648.4h1.3v1.3h-1.3zM213.5,640.6h1.3v1.3h-1.3zM206.4,651.9h1.3v1.3h-1.3zM215.7,641.2h1.3v1.3h-1.3zM222.7,640.8h1.3v1.3h-1.3zM213.9,643.0h1.3v1.3h-1.3zM232.9,656.9h1.3v1.3h-1.3zM216.4,635.0h1.3v1.3h-1.3zM220.4,646.9h1.3v1.3h-1.3zM221.0,650.4h1.3v1.3h-1.3zM214.9,653.0h1.3v1.3h-1.3zM225.5,647.9h1.3v1.3h-1.3zM214.1,642.9h1.3v1.3h-1.3zM224.2,638.4h1.3v1.3h-1.3zM216.4,640.9h1.3v1.3h-1.3zM205.1,650.7h1.3v1.3h-1.3zM217.6,646.6h1.3v1.3h-1.3zM225.8,635.6h1.3v1.3h-1.3zM217.2,648.4h1.3v1.3h-1.3zM225.4,638.5h1.3v1.3h-1.3zM224.4,647.9h1.3v1.3h-1.3zM230.2,654.6h1.3v1.3h-1.3zM222.9,661.9h1.3v1.3h-1.3zM217.8,643.3h1.3v1.3h-1.3zM214.7,639.6h1.3v1.3h-1.3zM216.3,675.9h1.3v1.3h-1.3zM216.3,680.4h1.3v1.3h-1.3zM207.3,658.4h1.3v1.3h-1.3zM224.3,635.4h1.3v1.3h-1.3z" fill="#111"/>
<rect x="144.50" y="597.50" width="102.50" height="90.00" fill="none" stroke="#151515" stroke-width="1.25"/>
<line x1="181.25" y1="597.50" x2="181.25" y2="687.50" stroke="#151515" stroke-width="1.25" />
<line x1="144.50" y1="649.50" x2="247.00" y2="649.50" stroke="#151515" stroke-width="1.25" />
<path d="M144.50,687.50v5.50M144.50,687.50h-5.50M152.21,687.50v2.60M144.50,680.73h-2.60M156.73,687.50v2.60M144.50,676.76h-2.60M159.93,687.50v2.60M144.50,673.95h-2.60M162.41,687.50v2.60M144.50,671.77h-2.60M164.44,687.50v2.60M144.50,669.99h-2.60M166.16,687.50v2.60M144.50,668.49h-2.60M167.64,687.50v2.60M144.50,667.18h-2.60M168.95,687.50v2.60M144.50,666.03h-2.60M170.12,687.50v5.50M144.50,665.00h-5.50M177.84,687.50v2.60M144.50,658.23h-2.60M182.35,687.50v2.60M144.50,654.26h-2.60M185.55,687.50v2.60M144.50,651.45h-2.60M188.04,687.50v2.60M144.50,649.27h-2.60M190.07,687.50v2.60M144.50,647.49h-2.60M191.78,687.50v2.60M144.50,645.99h-2.60M193.27,687.50v2.60M144.50,644.68h-2.60M194.58,687.50v2.60M144.50,643.53h-2.60M195.75,687.50v5.50M144.50,642.50h-5.50M203.46,687.50v2.60M144.50,635.73h-2.60M207.98,687.50v2.60M144.50,631.76h-2.60M211.18,687.50v2.60M144.50,628.95h-2.60M213.66,687.50v2.60M144.50,626.77h-2.60M215.69,687.50v2.60M144.50,624.99h-2.60M217.41,687.50v2.60M144.50,623.49h-2.60M218.89,687.50v2.60M144.50,622.18h-2.60M220.20,687.50v2.60M144.50,621.03h-2.60M221.38,687.50v5.50M144.50,620.00h-5.50M229.09,687.50v2.60M144.50,613.23h-2.60M233.60,687.50v2.60M144.50,609.26h-2.60M236.80,687.50v2.60M144.50,606.45h-2.60M239.29,687.50v2.60M144.50,604.27h-2.60M241.32,687.50v2.60M144.50,602.49h-2.60M243.03,687.50v2.60M144.50,600.99h-2.60M244.52,687.50v2.60M144.50,599.68h-2.60M245.83,687.50v2.60M144.50,598.53h-2.60M247.00,687.50v5.5M144.50,597.50h-5.5" stroke="#1a1a1a" stroke-width="1.25" fill="none"/>
<text x="138.00" y="705.0" font-size="11.6" fill="#222" textLength="9.0" lengthAdjust="spacingAndGlyphs">10</text>
<text x="147.90" y="699.4" font-size="11.6" fill="#222" textLength="4.6" lengthAdjust="spacingAndGlyphs">0</text>
<text x="163.62" y="705.0" font-size="11.6" fill="#222" textLength="9.0" lengthAdjust="spacingAndGlyphs">10</text>
<text x="173.53" y="699.4" font-size="11.6" fill="#222" textLength="4.6" lengthAdjust="spacingAndGlyphs">1</text>
<text x="189.25" y="705.0" font-size="11.6" fill="#222" textLength="9.0" lengthAdjust="spacingAndGlyphs">10</text>
<text x="199.15" y="699.4" font-size="11.6" fill="#222" textLength="4.6" lengthAdjust="spacingAndGlyphs">2</text>
<text x="214.88" y="705.0" font-size="11.6" fill="#222" textLength="9.0" lengthAdjust="spacingAndGlyphs">10</text>
<text x="224.78" y="699.4" font-size="11.6" fill="#222" textLength="4.6" lengthAdjust="spacingAndGlyphs">3</text>
<text x="240.50" y="705.0" font-size="11.6" fill="#222" textLength="9.0" lengthAdjust="spacingAndGlyphs">10</text>
<text x="250.40" y="699.4" font-size="11.6" fill="#222" textLength="4.6" lengthAdjust="spacingAndGlyphs">4</text>
<text x="150.60" y="614.70" font-size="20.3" font-weight="bold" text-anchor="start" fill="#111" >ii</text>
<line x1="201.25" y1="611.25" x2="247.00" y2="611.25" stroke="#151515" stroke-width="1.3" />
<line x1="224.25" y1="597.50" x2="224.25" y2="625.00" stroke="#151515" stroke-width="1.3" />
<text x="215.20" y="609.90" font-size="11" font-weight="normal" text-anchor="end" fill="#222" >0</text>
<text x="242.50" y="609.90" font-size="11" font-weight="normal" text-anchor="end" fill="#222" >83</text>
<text x="215.20" y="623.90" font-size="11" font-weight="normal" text-anchor="end" fill="#222" >0</text>
<text x="242.50" y="623.90" font-size="11" font-weight="normal" text-anchor="end" fill="#222" >17</text>
<text x="289.20" y="593.00" font-size="12" font-weight="normal" text-anchor="start" fill="#222" textLength="31.8" lengthAdjust="spacingAndGlyphs" >Blood</text>
<path d="M307.2,637.3h1.3v1.3h-1.3zM307.0,650.2h1.3v1.3h-1.3zM311.5,645.9h1.3v1.3h-1.3zM313.2,644.2h1.3v1.3h-1.3zM306.8,637.3h1.3v1.3h-1.3zM304.2,643.4h1.3v1.3h-1.3zM313.5,650.8h1.3v1.3h-1.3zM302.8,650.8h1.3v1.3h-1.3zM309.3,646.6h1.3v1.3h-1.3zM307.4,646.2h1.3v1.3h-1.3zM305.1,638.2h1.3v1.3h-1.3zM307.0,654.9h1.3v1.3h-1.3zM313.2,646.3h1.3v1.3h-1.3zM304.3,646.7h1.3v1.3h-1.3zM311.0,649.8h1.3v1.3h-1.3zM305.0,649.8h1.3v1.3h-1.3zM306.5,650.7h1.3v1.3h-1.3zM305.7,639.8h1.3v1.3h-1.3zM307.6,652.0h1.3v1.3h-1.3zM302.8,647.3h1.3v1.3h-1.3zM310.9,645.8h1.3v1.3h-1.3zM304.7,658.9h1.3v1.3h-1.3zM310.7,653.5h1.3v1.3h-1.3zM303.5,656.8h1.3v1.3h-1.3zM300.6,645.0h1.3v1.3h-1.3zM310.4,655.1h1.3v1.3h-1.3zM303.5,644.2h1.3v1.3h-1.3zM308.2,637.3h1.3v1.3h-1.3zM310.0,650.9h1.3v1.3h-1.3zM305.5,650.8h1.3v1.3h-1.3zM310.5,649.5h1.3v1.3h-1.3zM309.5,656.1h1.3v1.3h-1.3zM305.4,648.7h1.3v1.3h-1.3zM305.2,653.5h1.3v1.3h-1.3zM305.7,650.4h1.3v1.3h-1.3zM307.9,648.2h1.3v1.3h-1.3zM314.3,647.4h1.3v1.3h-1.3zM313.1,652.3h1.3v1.3h-1.3zM312.7,647.0h1.3v1.3h-1.3zM311.1,651.9h1.3v1.3h-1.3zM304.9,649.3h1.3v1.3h-1.3zM306.8,647.7h1.3v1.3h-1.3zM312.6,644.0h1.3v1.3h-1.3zM300.5,638.4h1.3v1.3h-1.3zM305.5,644.4h1.3v1.3h-1.3zM307.4,650.9h1.3v1.3h-1.3zM314.5,649.5h1.3v1.3h-1.3zM309.2,643.9h1.3v1.3h-1.3zM309.7,655.2h1.3v1.3h-1.3zM312.8,637.3h1.3v1.3h-1.3zM311.0,656.4h1.3v1.3h-1.3zM310.7,639.8h1.3v1.3h-1.3zM306.1,651.0h1.3v1.3h-1.3zM309.0,643.5h1.3v1.3h-1.3zM303.7,653.1h1.3v1.3h-1.3zM302.0,655.6h1.3v1.3h-1.3zM307.4,649.5h1.3v1.3h-1.3zM302.0,644.6h1.3v1.3h-1.3zM310.1,639.9h1.3v1.3h-1.3zM315.7,640.3h1.3v1.3h-1.3zM302.4,648.1h1.3v1.3h-1.3zM309.3,651.8h1.3v1.3h-1.3zM305.9,646.7h1.3v1.3h-1.3zM306.4,644.8h1.3v1.3h-1.3zM296.9,653.0h1.3v1.3h-1.3zM308.4,648.7h1.3v1.3h-1.3zM304.8,649.2h1.3v1.3h-1.3zM307.3,647.4h1.3v1.3h-1.3zM311.8,638.6h1.3v1.3h-1.3zM308.4,642.1h1.3v1.3h-1.3zM306.1,655.9h1.3v1.3h-1.3zM303.0,647.3h1.3v1.3h-1.3zM305.0,653.0h1.3v1.3h-1.3zM303.4,638.8h1.3v1.3h-1.3zM309.4,645.9h1.3v1.3h-1.3zM306.1,653.7h1.3v1.3h-1.3zM303.8,645.8h1.3v1.3h-1.3zM307.9,650.1h1.3v1.3h-1.3zM305.3,653.4h1.3v1.3h-1.3zM316.4,645.7h1.3v1.3h-1.3zM314.9,636.5h1.3v1.3h-1.3zM313.0,646.0h1.3v1.3h-1.3zM307.9,646.0h1.3v1.3h-1.3zM304.8,641.0h1.3v1.3h-1.3zM305.8,654.8h1.3v1.3h-1.3zM311.9,646.0h1.3v1.3h-1.3zM305.2,644.1h1.3v1.3h-1.3zM302.5,657.5h1.3v1.3h-1.3zM310.0,648.5h1.3v1.3h-1.3zM305.4,642.4h1.3v1.3h-1.3zM312.7,652.0h1.3v1.3h-1.3zM303.5,653.2h1.3v1.3h-1.3zM302.9,651.3h1.3v1.3h-1.3zM303.5,645.6h1.3v1.3h-1.3zM309.3,650.2h1.3v1.3h-1.3zM311.4,643.4h1.3v1.3h-1.3zM313.7,655.1h1.3v1.3h-1.3zM307.3,650.4h1.3v1.3h-1.3zM304.2,647.0h1.3v1.3h-1.3zM302.0,648.3h1.3v1.3h-1.3zM308.2,655.1h1.3v1.3h-1.3zM311.2,652.2h1.3v1.3h-1.3zM305.9,646.6h1.3v1.3h-1.3zM306.0,649.0h1.3v1.3h-1.3zM299.6,652.0h1.3v1.3h-1.3zM301.0,645.1h1.3v1.3h-1.3zM307.4,645.1h1.3v1.3h-1.3zM314.1,647.3h1.3v1.3h-1.3zM313.7,654.2h1.3v1.3h-1.3zM305.3,650.0h1.3v1.3h-1.3zM312.6,646.1h1.3v1.3h-1.3zM307.7,644.8h1.3v1.3h-1.3zM307.6,645.9h1.3v1.3h-1.3zM307.7,653.2h1.3v1.3h-1.3zM313.0,648.6h1.3v1.3h-1.3zM308.2,652.5h1.3v1.3h-1.3zM306.2,642.2h1.3v1.3h-1.3zM311.8,642.8h1.3v1.3h-1.3zM311.1,642.7h1.3v1.3h-1.3zM314.7,642.2h1.3v1.3h-1.3zM310.8,655.9h1.3v1.3h-1.3zM303.5,655.8h1.3v1.3h-1.3zM304.0,638.4h1.3v1.3h-1.3zM310.3,651.6h1.3v1.3h-1.3zM306.5,634.3h1.3v1.3h-1.3zM307.1,646.2h1.3v1.3h-1.3zM305.8,646.3h1.3v1.3h-1.3zM300.1,644.8h1.3v1.3h-1.3zM314.6,656.2h1.3v1.3h-1.3zM305.9,644.0h1.3v1.3h-1.3zM308.9,653.6h1.3v1.3h-1.3zM310.3,641.6h1.3v1.3h-1.3zM308.0,648.6h1.3v1.3h-1.3zM313.1,654.3h1.3v1.3h-1.3zM309.5,654.4h1.3v1.3h-1.3zM305.8,656.1h1.3v1.3h-1.3zM305.6,650.0h1.3v1.3h-1.3zM311.1,642.9h1.3v1.3h-1.3zM304.5,638.4h1.3v1.3h-1.3zM308.0,647.6h1.3v1.3h-1.3zM306.0,650.5h1.3v1.3h-1.3zM298.8,647.7h1.3v1.3h-1.3zM307.7,646.4h1.3v1.3h-1.3zM310.6,657.3h1.3v1.3h-1.3zM305.6,642.8h1.3v1.3h-1.3zM304.9,648.3h1.3v1.3h-1.3zM309.7,643.2h1.3v1.3h-1.3zM311.4,642.3h1.3v1.3h-1.3zM310.7,650.1h1.3v1.3h-1.3zM309.2,659.4h1.3v1.3h-1.3zM306.3,647.0h1.3v1.3h-1.3zM309.3,652.5h1.3v1.3h-1.3zM302.0,649.3h1.3v1.3h-1.3zM304.4,651.2h1.3v1.3h-1.3zM312.9,648.1h1.3v1.3h-1.3zM306.9,648.8h1.3v1.3h-1.3zM295.4,652.0h1.3v1.3h-1.3zM309.6,648.7h1.3v1.3h-1.3zM305.8,643.9h1.3v1.3h-1.3zM306.6,654.4h1.3v1.3h-1.3zM306.9,655.1h1.3v1.3h-1.3zM297.0,645.4h1.3v1.3h-1.3zM308.5,647.8h1.3v1.3h-1.3zM300.7,644.3h1.3v1.3h-1.3zM312.4,640.9h1.3v1.3h-1.3zM303.4,642.0h1.3v1.3h-1.3zM305.1,651.3h1.3v1.3h-1.3zM309.7,636.9h1.3v1.3h-1.3zM313.2,644.7h1.3v1.3h-1.3zM305.0,656.8h1.3v1.3h-1.3zM307.0,641.2h1.3v1.3h-1.3zM304.8,643.9h1.3v1.3h-1.3zM303.3,646.1h1.3v1.3h-1.3zM310.9,649.7h1.3v1.3h-1.3zM301.8,662.8h1.3v1.3h-1.3zM303.4,648.5h1.3v1.3h-1.3zM307.5,651.9h1.3v1.3h-1.3zM306.0,650.3h1.3v1.3h-1.3zM315.8,648.4h1.3v1.3h-1.3zM303.0,649.6h1.3v1.3h-1.3zM304.1,645.9h1.3v1.3h-1.3zM308.1,649.7h1.3v1.3h-1.3zM306.2,652.4h1.3v1.3h-1.3zM306.6,640.8h1.3v1.3h-1.3zM310.9,645.9h1.3v1.3h-1.3zM312.2,644.3h1.3v1.3h-1.3zM309.7,649.5h1.3v1.3h-1.3zM296.5,639.8h1.3v1.3h-1.3zM302.8,655.4h1.3v1.3h-1.3zM299.7,652.8h1.3v1.3h-1.3zM311.8,650.5h1.3v1.3h-1.3zM310.1,645.2h1.3v1.3h-1.3zM307.3,649.1h1.3v1.3h-1.3zM309.0,651.7h1.3v1.3h-1.3zM306.5,644.1h1.3v1.3h-1.3zM305.1,650.1h1.3v1.3h-1.3zM300.7,641.1h1.3v1.3h-1.3zM305.7,644.9h1.3v1.3h-1.3zM306.3,633.5h1.3v1.3h-1.3zM306.0,646.5h1.3v1.3h-1.3zM310.5,637.2h1.3v1.3h-1.3zM306.1,650.4h1.3v1.3h-1.3zM309.3,654.3h1.3v1.3h-1.3zM311.6,642.2h1.3v1.3h-1.3zM309.9,646.0h1.3v1.3h-1.3zM304.1,656.1h1.3v1.3h-1.3zM304.8,643.3h1.3v1.3h-1.3zM305.7,643.3h1.3v1.3h-1.3zM311.4,649.9h1.3v1.3h-1.3zM313.0,650.1h1.3v1.3h-1.3zM304.9,653.5h1.3v1.3h-1.3zM304.7,645.4h1.3v1.3h-1.3zM306.7,648.1h1.3v1.3h-1.3zM312.2,644.6h1.3v1.3h-1.3zM308.8,647.7h1.3v1.3h-1.3zM302.3,642.0h1.3v1.3h-1.3zM306.5,650.0h1.3v1.3h-1.3zM308.6,650.4h1.3v1.3h-1.3zM307.5,645.4h1.3v1.3h-1.3zM309.1,642.4h1.3v1.3h-1.3zM301.9,646.1h1.3v1.3h-1.3zM301.6,645.1h1.3v1.3h-1.3zM304.3,644.9h1.3v1.3h-1.3zM307.2,643.5h1.3v1.3h-1.3zM305.6,638.6h1.3v1.3h-1.3zM307.9,643.1h1.3v1.3h-1.3zM309.0,632.6h1.3v1.3h-1.3zM304.1,649.2h1.3v1.3h-1.3zM297.5,645.9h1.3v1.3h-1.3zM307.7,648.4h1.3v1.3h-1.3zM301.3,649.1h1.3v1.3h-1.3zM308.0,642.6h1.3v1.3h-1.3zM310.4,647.6h1.3v1.3h-1.3zM307.4,645.4h1.3v1.3h-1.3zM309.6,648.4h1.3v1.3h-1.3zM312.0,650.3h1.3v1.3h-1.3zM304.8,646.6h1.3v1.3h-1.3zM311.1,645.9h1.3v1.3h-1.3zM308.9,650.7h1.3v1.3h-1.3zM306.6,635.3h1.3v1.3h-1.3zM307.9,649.0h1.3v1.3h-1.3zM307.9,643.7h1.3v1.3h-1.3zM312.3,647.1h1.3v1.3h-1.3zM304.8,644.0h1.3v1.3h-1.3zM308.8,641.9h1.3v1.3h-1.3zM303.3,658.7h1.3v1.3h-1.3zM312.7,653.6h1.3v1.3h-1.3zM312.9,651.1h1.3v1.3h-1.3zM300.5,654.3h1.3v1.3h-1.3zM312.4,650.5h1.3v1.3h-1.3zM299.4,654.6h1.3v1.3h-1.3zM312.9,645.2h1.3v1.3h-1.3zM307.9,652.1h1.3v1.3h-1.3zM307.0,653.8h1.3v1.3h-1.3zM307.7,651.6h1.3v1.3h-1.3zM307.7,639.8h1.3v1.3h-1.3zM303.3,665.0h1.3v1.3h-1.3zM308.5,655.0h1.3v1.3h-1.3zM312.0,657.2h1.3v1.3h-1.3zM309.6,644.6h1.3v1.3h-1.3zM307.4,637.4h1.3v1.3h-1.3zM306.6,652.8h1.3v1.3h-1.3zM298.5,648.9h1.3v1.3h-1.3zM310.7,655.1h1.3v1.3h-1.3zM303.6,644.3h1.3v1.3h-1.3zM299.7,642.3h1.3v1.3h-1.3zM309.5,659.1h1.3v1.3h-1.3zM302.7,655.3h1.3v1.3h-1.3zM309.1,645.2h1.3v1.3h-1.3zM316.3,634.1h1.3v1.3h-1.3zM307.1,649.0h1.3v1.3h-1.3zM316.0,657.6h1.3v1.3h-1.3zM316.6,648.6h1.3v1.3h-1.3zM311.4,655.3h1.3v1.3h-1.3zM309.4,649.8h1.3v1.3h-1.3zM306.6,645.6h1.3v1.3h-1.3zM302.3,658.5h1.3v1.3h-1.3zM305.5,636.5h1.3v1.3h-1.3zM308.4,647.7h1.3v1.3h-1.3zM308.1,657.7h1.3v1.3h-1.3zM306.9,646.4h1.3v1.3h-1.3zM304.3,647.7h1.3v1.3h-1.3zM305.6,649.0h1.3v1.3h-1.3zM320.1,650.0h1.3v1.3h-1.3zM303.9,658.4h1.3v1.3h-1.3zM310.9,652.3h1.3v1.3h-1.3zM310.3,652.3h1.3v1.3h-1.3zM310.1,655.5h1.3v1.3h-1.3zM311.5,655.2h1.3v1.3h-1.3zM305.3,647.8h1.3v1.3h-1.3zM304.4,653.1h1.3v1.3h-1.3zM310.7,645.3h1.3v1.3h-1.3zM309.7,662.2h1.3v1.3h-1.3zM312.4,641.8h1.3v1.3h-1.3zM307.0,651.3h1.3v1.3h-1.3zM307.2,650.0h1.3v1.3h-1.3zM312.2,649.6h1.3v1.3h-1.3zM302.9,651.7h1.3v1.3h-1.3zM307.0,648.5h1.3v1.3h-1.3zM305.0,640.3h1.3v1.3h-1.3zM302.3,645.9h1.3v1.3h-1.3zM303.0,633.0h1.3v1.3h-1.3zM312.0,641.5h1.3v1.3h-1.3zM304.4,650.7h1.3v1.3h-1.3zM297.5,655.2h1.3v1.3h-1.3zM304.2,651.4h1.3v1.3h-1.3zM305.4,649.5h1.3v1.3h-1.3zM307.8,647.8h1.3v1.3h-1.3zM299.9,639.8h1.3v1.3h-1.3zM307.2,655.5h1.3v1.3h-1.3zM305.1,650.8h1.3v1.3h-1.3zM308.0,650.5h1.3v1.3h-1.3zM311.4,639.7h1.3v1.3h-1.3zM308.5,646.9h1.3v1.3h-1.3zM306.1,643.2h1.3v1.3h-1.3zM304.1,642.2h1.3v1.3h-1.3zM302.9,661.5h1.3v1.3h-1.3zM314.3,647.9h1.3v1.3h-1.3zM310.4,642.5h1.3v1.3h-1.3zM296.0,637.9h1.3v1.3h-1.3zM307.9,655.7h1.3v1.3h-1.3zM307.2,642.4h1.3v1.3h-1.3zM306.4,642.4h1.3v1.3h-1.3zM301.6,646.6h1.3v1.3h-1.3zM305.7,643.4h1.3v1.3h-1.3zM303.7,642.8h1.3v1.3h-1.3zM308.3,655.5h1.3v1.3h-1.3zM306.5,660.1h1.3v1.3h-1.3zM300.7,649.3h1.3v1.3h-1.3zM302.6,647.0h1.3v1.3h-1.3zM307.8,650.9h1.3v1.3h-1.3zM312.0,644.8h1.3v1.3h-1.3zM302.3,646.8h1.3v1.3h-1.3zM308.6,644.0h1.3v1.3h-1.3zM311.0,657.0h1.3v1.3h-1.3zM301.5,649.8h1.3v1.3h-1.3zM311.5,637.4h1.3v1.3h-1.3zM308.2,646.6h1.3v1.3h-1.3zM301.5,655.0h1.3v1.3h-1.3zM308.2,645.2h1.3v1.3h-1.3zM309.2,651.4h1.3v1.3h-1.3zM310.5,651.0h1.3v1.3h-1.3zM309.0,641.4h1.3v1.3h-1.3zM305.6,648.6h1.3v1.3h-1.3zM296.0,659.5h1.3v1.3h-1.3zM305.8,642.1h1.3v1.3h-1.3zM299.9,649.2h1.3v1.3h-1.3zM307.5,644.7h1.3v1.3h-1.3zM305.6,643.0h1.3v1.3h-1.3zM304.3,647.3h1.3v1.3h-1.3zM304.7,651.6h1.3v1.3h-1.3zM306.8,648.6h1.3v1.3h-1.3zM309.0,654.8h1.3v1.3h-1.3zM309.8,649.1h1.3v1.3h-1.3zM306.7,643.5h1.3v1.3h-1.3zM305.9,651.6h1.3v1.3h-1.3zM308.3,645.7h1.3v1.3h-1.3zM301.9,639.5h1.3v1.3h-1.3zM308.7,653.5h1.3v1.3h-1.3zM308.9,640.4h1.3v1.3h-1.3zM306.5,649.1h1.3v1.3h-1.3zM303.6,649.7h1.3v1.3h-1.3zM306.5,643.3h1.3v1.3h-1.3zM302.3,652.3h1.3v1.3h-1.3zM308.8,643.0h1.3v1.3h-1.3zM303.2,652.7h1.3v1.3h-1.3zM309.8,646.2h1.3v1.3h-1.3zM313.9,646.3h1.3v1.3h-1.3zM303.0,653.8h1.3v1.3h-1.3zM306.6,649.7h1.3v1.3h-1.3zM307.5,642.4h1.3v1.3h-1.3zM302.5,646.8h1.3v1.3h-1.3zM313.1,642.4h1.3v1.3h-1.3zM312.9,649.1h1.3v1.3h-1.3zM302.8,649.3h1.3v1.3h-1.3zM309.7,642.9h1.3v1.3h-1.3zM298.6,649.8h1.3v1.3h-1.3zM302.8,650.3h1.3v1.3h-1.3zM299.5,647.1h1.3v1.3h-1.3zM304.0,639.8h1.3v1.3h-1.3zM306.4,648.8h1.3v1.3h-1.3zM305.1,641.4h1.3v1.3h-1.3zM308.2,638.3h1.3v1.3h-1.3zM309.5,650.5h1.3v1.3h-1.3zM314.2,652.7h1.3v1.3h-1.3zM308.8,649.3h1.3v1.3h-1.3zM307.5,640.6h1.3v1.3h-1.3zM313.3,650.7h1.3v1.3h-1.3zM306.2,641.6h1.3v1.3h-1.3zM313.4,650.7h1.3v1.3h-1.3zM302.5,651.5h1.3v1.3h-1.3zM315.1,647.7h1.3v1.3h-1.3zM309.0,645.6h1.3v1.3h-1.3zM304.8,653.7h1.3v1.3h-1.3zM319.9,648.5h1.3v1.3h-1.3zM306.8,652.2h1.3v1.3h-1.3zM306.1,651.8h1.3v1.3h-1.3zM310.7,642.3h1.3v1.3h-1.3zM303.0,647.4h1.3v1.3h-1.3zM310.7,649.4h1.3v1.3h-1.3zM312.4,640.4h1.3v1.3h-1.3zM309.4,644.5h1.3v1.3h-1.3zM307.8,649.6h1.3v1.3h-1.3zM303.4,646.6h1.3v1.3h-1.3zM302.6,649.3h1.3v1.3h-1.3zM303.9,645.2h1.3v1.3h-1.3zM308.2,644.3h1.3v1.3h-1.3zM312.0,644.4h1.3v1.3h-1.3zM310.8,649.4h1.3v1.3h-1.3zM303.1,646.7h1.3v1.3h-1.3zM303.9,645.9h1.3v1.3h-1.3zM306.2,657.7h1.3v1.3h-1.3zM305.6,656.4h1.3v1.3h-1.3zM309.2,640.8h1.3v1.3h-1.3zM297.9,651.5h1.3v1.3h-1.3zM299.2,651.7h1.3v1.3h-1.3zM311.5,650.0h1.3v1.3h-1.3zM306.5,646.5h1.3v1.3h-1.3zM308.4,646.2h1.3v1.3h-1.3zM305.2,645.8h1.3v1.3h-1.3zM312.1,644.5h1.3v1.3h-1.3zM308.9,641.6h1.3v1.3h-1.3zM304.5,640.4h1.3v1.3h-1.3zM306.5,651.6h1.3v1.3h-1.3zM308.6,645.2h1.3v1.3h-1.3zM309.8,646.0h1.3v1.3h-1.3zM308.9,649.3h1.3v1.3h-1.3zM309.6,634.4h1.3v1.3h-1.3zM302.1,652.0h1.3v1.3h-1.3zM306.9,660.0h1.3v1.3h-1.3zM306.4,644.9h1.3v1.3h-1.3zM313.4,650.9h1.3v1.3h-1.3zM315.1,650.6h1.3v1.3h-1.3zM306.5,651.8h1.3v1.3h-1.3zM304.1,645.4h1.3v1.3h-1.3zM305.1,646.6h1.3v1.3h-1.3zM310.5,645.2h1.3v1.3h-1.3zM308.7,645.2h1.3v1.3h-1.3zM310.9,632.9h1.3v1.3h-1.3zM306.5,648.8h1.3v1.3h-1.3zM303.0,653.3h1.3v1.3h-1.3zM308.2,654.8h1.3v1.3h-1.3zM311.3,651.3h1.3v1.3h-1.3zM306.7,642.0h1.3v1.3h-1.3zM306.5,645.4h1.3v1.3h-1.3zM308.4,645.3h1.3v1.3h-1.3zM319.8,639.2h1.3v1.3h-1.3zM312.1,645.3h1.3v1.3h-1.3zM306.4,652.9h1.3v1.3h-1.3zM307.4,641.3h1.3v1.3h-1.3zM309.0,646.8h1.3v1.3h-1.3zM299.0,648.9h1.3v1.3h-1.3zM303.1,643.8h1.3v1.3h-1.3zM309.3,649.5h1.3v1.3h-1.3zM306.2,659.6h1.3v1.3h-1.3zM309.1,644.5h1.3v1.3h-1.3zM308.3,647.2h1.3v1.3h-1.3zM298.4,639.3h1.3v1.3h-1.3zM301.7,659.0h1.3v1.3h-1.3zM306.6,646.4h1.3v1.3h-1.3zM305.1,653.2h1.3v1.3h-1.3zM307.5,657.1h1.3v1.3h-1.3zM310.5,656.7h1.3v1.3h-1.3zM306.9,649.9h1.3v1.3h-1.3zM305.6,646.9h1.3v1.3h-1.3zM300.3,644.7h1.3v1.3h-1.3zM303.5,644.3h1.3v1.3h-1.3zM312.3,649.3h1.3v1.3h-1.3zM312.3,652.5h1.3v1.3h-1.3zM311.1,653.3h1.3v1.3h-1.3zM304.9,652.2h1.3v1.3h-1.3zM306.0,645.0h1.3v1.3h-1.3zM312.2,659.5h1.3v1.3h-1.3zM303.4,657.2h1.3v1.3h-1.3zM310.7,643.3h1.3v1.3h-1.3zM308.5,649.9h1.3v1.3h-1.3zM308.9,645.9h1.3v1.3h-1.3zM302.1,648.0h1.3v1.3h-1.3zM310.8,652.1h1.3v1.3h-1.3zM310.0,653.8h1.3v1.3h-1.3zM303.3,647.6h1.3v1.3h-1.3zM308.7,653.2h1.3v1.3h-1.3zM308.0,650.6h1.3v1.3h-1.3zM307.9,659.2h1.3v1.3h-1.3zM298.5,647.7h1.3v1.3h-1.3zM317.4,649.1h1.3v1.3h-1.3zM299.9,648.6h1.3v1.3h-1.3zM301.5,644.2h1.3v1.3h-1.3zM308.3,657.1h1.3v1.3h-1.3zM309.2,651.5h1.3v1.3h-1.3zM311.5,648.9h1.3v1.3h-1.3zM303.9,647.3h1.3v1.3h-1.3zM308.7,646.4h1.3v1.3h-1.3zM304.6,645.9h1.3v1.3h-1.3zM301.3,642.3h1.3v1.3h-1.3zM307.0,645.9h1.3v1.3h-1.3zM307.5,655.4h1.3v1.3h-1.3zM308.6,647.7h1.3v1.3h-1.3zM302.6,642.0h1.3v1.3h-1.3zM308.9,643.1h1.3v1.3h-1.3zM309.1,642.1h1.3v1.3h-1.3zM307.9,647.5h1.3v1.3h-1.3zM311.4,645.7h1.3v1.3h-1.3zM305.8,649.2h1.3v1.3h-1.3zM307.6,657.0h1.3v1.3h-1.3zM306.3,645.0h1.3v1.3h-1.3zM306.1,650.4h1.3v1.3h-1.3zM308.3,651.6h1.3v1.3h-1.3zM301.8,661.2h1.3v1.3h-1.3zM314.8,647.7h1.3v1.3h-1.3zM302.5,648.7h1.3v1.3h-1.3zM309.0,635.8h1.3v1.3h-1.3zM307.4,639.9h1.3v1.3h-1.3zM309.2,655.3h1.3v1.3h-1.3zM311.5,639.7h1.3v1.3h-1.3zM312.9,652.7h1.3v1.3h-1.3zM305.9,650.6h1.3v1.3h-1.3zM313.5,646.1h1.3v1.3h-1.3zM307.3,644.8h1.3v1.3h-1.3zM312.0,636.2h1.3v1.3h-1.3zM313.1,642.6h1.3v1.3h-1.3zM311.1,639.1h1.3v1.3h-1.3zM303.6,644.6h1.3v1.3h-1.3zM310.7,639.1h1.3v1.3h-1.3zM309.8,644.4h1.3v1.3h-1.3zM312.4,646.2h1.3v1.3h-1.3zM309.3,646.9h1.3v1.3h-1.3zM314.6,645.9h1.3v1.3h-1.3zM307.2,658.5h1.3v1.3h-1.3zM307.7,651.5h1.3v1.3h-1.3zM304.4,648.9h1.3v1.3h-1.3zM298.2,648.4h1.3v1.3h-1.3zM304.7,639.8h1.3v1.3h-1.3zM301.6,654.0h1.3v1.3h-1.3zM309.1,639.7h1.3v1.3h-1.3zM314.7,644.1h1.3v1.3h-1.3zM305.9,649.2h1.3v1.3h-1.3zM302.8,639.1h1.3v1.3h-1.3zM304.3,654.2h1.3v1.3h-1.3zM311.2,639.3h1.3v1.3h-1.3zM312.2,648.0h1.3v1.3h-1.3zM309.4,648.1h1.3v1.3h-1.3zM309.0,642.5h1.3v1.3h-1.3zM303.7,644.1h1.3v1.3h-1.3zM305.9,651.2h1.3v1.3h-1.3zM302.4,656.4h1.3v1.3h-1.3zM304.8,644.7h1.3v1.3h-1.3zM310.2,650.2h1.3v1.3h-1.3zM306.0,642.1h1.3v1.3h-1.3zM303.3,639.2h1.3v1.3h-1.3zM312.0,653.7h1.3v1.3h-1.3zM314.9,650.5h1.3v1.3h-1.3zM308.7,651.9h1.3v1.3h-1.3zM311.2,646.5h1.3v1.3h-1.3zM308.8,659.5h1.3v1.3h-1.3zM300.5,640.3h1.3v1.3h-1.3zM303.5,651.9h1.3v1.3h-1.3zM312.2,646.0h1.3v1.3h-1.3zM310.1,647.6h1.3v1.3h-1.3zM308.6,644.9h1.3v1.3h-1.3zM307.2,647.8h1.3v1.3h-1.3zM311.9,659.9h1.3v1.3h-1.3zM300.0,650.7h1.3v1.3h-1.3zM307.3,653.1h1.3v1.3h-1.3zM311.6,652.1h1.3v1.3h-1.3zM310.6,642.7h1.3v1.3h-1.3zM300.5,656.9h1.3v1.3h-1.3zM312.2,642.7h1.3v1.3h-1.3zM312.6,651.4h1.3v1.3h-1.3zM297.4,652.7h1.3v1.3h-1.3zM303.4,654.1h1.3v1.3h-1.3zM304.6,643.8h1.3v1.3h-1.3zM301.1,646.7h1.3v1.3h-1.3zM311.5,644.2h1.3v1.3h-1.3zM299.8,659.4h1.3v1.3h-1.3zM314.8,651.6h1.3v1.3h-1.3zM305.2,641.3h1.3v1.3h-1.3zM300.7,650.9h1.3v1.3h-1.3zM312.6,642.1h1.3v1.3h-1.3zM307.3,646.4h1.3v1.3h-1.3zM306.3,650.6h1.3v1.3h-1.3zM315.8,644.4h1.3v1.3h-1.3zM310.8,653.7h1.3v1.3h-1.3zM306.2,647.0h1.3v1.3h-1.3zM301.9,653.7h1.3v1.3h-1.3zM305.2,644.3h1.3v1.3h-1.3zM307.6,643.2h1.3v1.3h-1.3zM303.1,646.2h1.3v1.3h-1.3zM313.4,646.7h1.3v1.3h-1.3zM309.5,639.9h1.3v1.3h-1.3zM299.5,657.7h1.3v1.3h-1.3zM305.7,639.5h1.3v1.3h-1.3zM306.9,651.1h1.3v1.3h-1.3zM300.4,643.1h1.3v1.3h-1.3zM308.4,642.9h1.3v1.3h-1.3zM310.6,653.0h1.3v1.3h-1.3zM309.1,645.5h1.3v1.3h-1.3zM307.2,644.4h1.3v1.3h-1.3zM306.8,649.6h1.3v1.3h-1.3zM306.1,653.1h1.3v1.3h-1.3zM317.9,644.9h1.3v1.3h-1.3zM308.7,652.3h1.3v1.3h-1.3zM310.0,646.6h1.3v1.3h-1.3zM305.4,653.3h1.3v1.3h-1.3zM309.9,650.6h1.3v1.3h-1.3zM304.1,651.3h1.3v1.3h-1.3zM310.6,646.8h1.3v1.3h-1.3zM310.0,659.6h1.3v1.3h-1.3zM299.7,651.1h1.3v1.3h-1.3zM302.6,640.5h1.3v1.3h-1.3zM306.4,650.8h1.3v1.3h-1.3zM307.6,641.5h1.3v1.3h-1.3zM301.5,644.8h1.3v1.3h-1.3zM307.4,643.4h1.3v1.3h-1.3zM301.2,657.3h1.3v1.3h-1.3zM303.9,647.0h1.3v1.3h-1.3zM305.1,644.7h1.3v1.3h-1.3zM307.5,646.2h1.3v1.3h-1.3zM309.9,641.4h1.3v1.3h-1.3zM301.3,658.4h1.3v1.3h-1.3zM306.8,655.8h1.3v1.3h-1.3zM316.5,653.6h1.3v1.3h-1.3zM307.6,631.8h1.3v1.3h-1.3zM295.0,657.9h1.3v1.3h-1.3zM312.6,653.7h1.3v1.3h-1.3zM294.5,625.9h1.3v1.3h-1.3zM299.2,635.7h1.3v1.3h-1.3zM308.6,637.3h1.3v1.3h-1.3zM319.6,641.4h1.3v1.3h-1.3zM303.0,656.8h1.3v1.3h-1.3zM309.9,638.6h1.3v1.3h-1.3zM313.7,667.7h1.3v1.3h-1.3zM297.9,645.3h1.3v1.3h-1.3zM299.0,627.8h1.3v1.3h-1.3zM312.2,655.1h1.3v1.3h-1.3zM314.9,652.3h1.3v1.3h-1.3zM291.8,647.6h1.3v1.3h-1.3zM302.2,635.7h1.3v1.3h-1.3zM298.8,655.8h1.3v1.3h-1.3zM305.1,668.2h1.3v1.3h-1.3zM311.0,628.1h1.3v1.3h-1.3zM314.3,660.8h1.3v1.3h-1.3zM307.6,635.3h1.3v1.3h-1.3zM321.1,634.3h1.3v1.3h-1.3zM306.7,628.1h1.3v1.3h-1.3zM297.6,630.3h1.3v1.3h-1.3zM315.8,660.0h1.3v1.3h-1.3zM304.2,633.8h1.3v1.3h-1.3zM306.9,651.8h1.3v1.3h-1.3zM295.5,635.9h1.3v1.3h-1.3zM306.6,655.1h1.3v1.3h-1.3zM307.9,652.5h1.3v1.3h-1.3zM297.6,622.0h1.3v1.3h-1.3zM309.8,638.3h1.3v1.3h-1.3zM306.4,643.9h1.3v1.3h-1.3zM311.1,639.8h1.3v1.3h-1.3zM318.6,648.2h1.3v1.3h-1.3zM311.5,654.4h1.3v1.3h-1.3zM315.4,652.0h1.3v1.3h-1.3zM293.7,641.3h1.3v1.3h-1.3zM321.8,652.8h1.3v1.3h-1.3zM311.7,652.7h1.3v1.3h-1.3zM302.4,640.8h1.3v1.3h-1.3zM302.3,659.9h1.3v1.3h-1.3zM310.2,666.4h1.3v1.3h-1.3zM311.2,667.5h1.3v1.3h-1.3zM310.9,635.5h1.3v1.3h-1.3zM320.9,651.4h1.3v1.3h-1.3zM316.7,650.1h1.3v1.3h-1.3zM304.8,649.6h1.3v1.3h-1.3zM298.6,635.4h1.3v1.3h-1.3zM300.4,642.4h1.3v1.3h-1.3zM296.7,646.8h1.3v1.3h-1.3zM309.7,669.0h1.3v1.3h-1.3zM321.8,647.3h1.3v1.3h-1.3zM314.3,645.6h1.3v1.3h-1.3zM310.4,647.5h1.3v1.3h-1.3zM303.1,648.6h1.3v1.3h-1.3zM295.8,652.4h1.3v1.3h-1.3zM305.1,636.5h1.3v1.3h-1.3zM328.9,644.4h1.3v1.3h-1.3zM338.4,651.4h1.3v1.3h-1.3zM332.4,653.4h1.3v1.3h-1.3zM329.4,656.4h1.3v1.3h-1.3zM319.4,680.4h1.3v1.3h-1.3zM382.0,625.0h1.3v1.3h-1.3z" fill="#111"/>
<rect x="289.70" y="597.40" width="103.40" height="90.70" fill="none" stroke="#151515" stroke-width="1.25"/>
<line x1="324.30" y1="597.40" x2="324.30" y2="688.10" stroke="#151515" stroke-width="1.25" />
<line x1="289.70" y1="657.60" x2="393.10" y2="657.60" stroke="#151515" stroke-width="1.25" />
<path d="M289.70,688.10v5.50M289.70,688.10h-5.50M297.48,688.10v2.60M289.70,681.27h-2.60M302.03,688.10v2.60M289.70,677.28h-2.60M305.26,688.10v2.60M289.70,674.45h-2.60M307.77,688.10v2.60M289.70,672.25h-2.60M309.82,688.10v2.60M289.70,670.46h-2.60M311.55,688.10v2.60M289.70,668.94h-2.60M313.04,688.10v2.60M289.70,667.62h-2.60M314.37,688.10v2.60M289.70,666.46h-2.60M315.55,688.10v5.50M289.70,665.42h-5.50M323.33,688.10v2.60M289.70,658.60h-2.60M327.88,688.10v2.60M289.70,654.61h-2.60M331.11,688.10v2.60M289.70,651.77h-2.60M333.62,688.10v2.60M289.70,649.58h-2.60M335.67,688.10v2.60M289.70,647.78h-2.60M337.40,688.10v2.60M289.70,646.26h-2.60M338.89,688.10v2.60M289.70,644.95h-2.60M340.22,688.10v2.60M289.70,643.79h-2.60M341.40,688.10v5.50M289.70,642.75h-5.50M349.18,688.10v2.60M289.70,635.92h-2.60M353.73,688.10v2.60M289.70,631.93h-2.60M356.96,688.10v2.60M289.70,629.10h-2.60M359.47,688.10v2.60M289.70,626.90h-2.60M361.52,688.10v2.60M289.70,625.11h-2.60M363.25,688.10v2.60M289.70,623.59h-2.60M364.74,688.10v2.60M289.70,622.27h-2.60M366.07,688.10v2.60M289.70,621.11h-2.60M367.25,688.10v5.50M289.70,620.08h-5.50M375.03,688.10v2.60M289.70,613.25h-2.60M379.58,688.10v2.60M289.70,609.26h-2.60M382.81,688.10v2.60M289.70,606.42h-2.60M385.32,688.10v2.60M289.70,604.23h-2.60M387.37,688.10v2.60M289.70,602.43h-2.60M389.10,688.10v2.60M289.70,600.91h-2.60M390.59,688.10v2.60M289.70,599.60h-2.60M391.92,688.10v2.60M289.70,598.44h-2.60M393.10,688.10v5.5M289.70,597.40h-5.5" stroke="#1a1a1a" stroke-width="1.25" fill="none"/>
<text x="283.20" y="705.0" font-size="11.6" fill="#222" textLength="9.0" lengthAdjust="spacingAndGlyphs">10</text>
<text x="293.10" y="699.4" font-size="11.6" fill="#222" textLength="4.6" lengthAdjust="spacingAndGlyphs">0</text>
<text x="309.05" y="705.0" font-size="11.6" fill="#222" textLength="9.0" lengthAdjust="spacingAndGlyphs">10</text>
<text x="318.95" y="699.4" font-size="11.6" fill="#222" textLength="4.6" lengthAdjust="spacingAndGlyphs">1</text>
<text x="334.90" y="705.0" font-size="11.6" fill="#222" textLength="9.0" lengthAdjust="spacingAndGlyphs">10</text>
<text x="344.80" y="699.4" font-size="11.6" fill="#222" textLength="4.6" lengthAdjust="spacingAndGlyphs">2</text>
<text x="360.75" y="705.0" font-size="11.6" fill="#222" textLength="9.0" lengthAdjust="spacingAndGlyphs">10</text>
<text x="370.65" y="699.4" font-size="11.6" fill="#222" textLength="4.6" lengthAdjust="spacingAndGlyphs">3</text>
<text x="386.60" y="705.0" font-size="11.6" fill="#222" textLength="9.0" lengthAdjust="spacingAndGlyphs">10</text>
<text x="396.50" y="699.4" font-size="11.6" fill="#222" textLength="4.6" lengthAdjust="spacingAndGlyphs">4</text>
<text x="294.50" y="614.70" font-size="20.3" font-weight="bold" text-anchor="start" fill="#111" >iii</text>
<line x1="347.00" y1="612.00" x2="393.10" y2="612.00" stroke="#151515" stroke-width="1.3" />
<line x1="370.00" y1="597.40" x2="370.00" y2="625.30" stroke="#151515" stroke-width="1.3" />
<text x="367.70" y="610.70" font-size="11" font-weight="normal" text-anchor="end" fill="#222" >95</text>
<text x="381.80" y="610.70" font-size="11" font-weight="normal" text-anchor="end" fill="#222" >5</text>
<text x="366.00" y="624.40" font-size="11" font-weight="normal" text-anchor="end" fill="#222" >0</text>
<text x="381.80" y="624.40" font-size="11" font-weight="normal" text-anchor="end" fill="#222" >0</text>
<text x="408.50" y="593.00" font-size="12" font-weight="normal" text-anchor="start" fill="#222" textLength="32" lengthAdjust="spacingAndGlyphs" >Clone</text>
<path d="M425.7,634.9h1.3v1.3h-1.3zM424.6,634.6h1.3v1.3h-1.3zM428.9,638.7h1.3v1.3h-1.3zM423.2,632.4h1.3v1.3h-1.3zM428.7,638.5h1.3v1.3h-1.3zM427.9,635.7h1.3v1.3h-1.3zM421.9,630.7h1.3v1.3h-1.3zM432.7,631.8h1.3v1.3h-1.3zM434.4,630.1h1.3v1.3h-1.3zM426.0,626.9h1.3v1.3h-1.3zM429.1,633.8h1.3v1.3h-1.3zM433.9,633.5h1.3v1.3h-1.3zM426.1,627.6h1.3v1.3h-1.3zM426.7,636.4h1.3v1.3h-1.3zM429.5,637.5h1.3v1.3h-1.3zM429.9,632.7h1.3v1.3h-1.3zM429.0,633.5h1.3v1.3h-1.3zM422.3,639.3h1.3v1.3h-1.3zM428.2,628.9h1.3v1.3h-1.3zM428.3,633.9h1.3v1.3h-1.3zM430.4,638.3h1.3v1.3h-1.3zM416.4,634.9h1.3v1.3h-1.3zM432.2,629.3h1.3v1.3h-1.3zM420.5,633.9h1.3v1.3h-1.3zM428.1,634.2h1.3v1.3h-1.3zM423.1,631.1h1.3v1.3h-1.3zM427.6,635.7h1.3v1.3h-1.3zM434.5,634.0h1.3v1.3h-1.3zM424.9,624.0h1.3v1.3h-1.3zM430.7,632.4h1.3v1.3h-1.3zM426.6,629.1h1.3v1.3h-1.3zM429.5,626.1h1.3v1.3h-1.3zM427.3,633.3h1.3v1.3h-1.3zM428.0,637.8h1.3v1.3h-1.3zM426.6,633.2h1.3v1.3h-1.3zM429.9,627.0h1.3v1.3h-1.3zM425.9,633.1h1.3v1.3h-1.3zM430.3,629.8h1.3v1.3h-1.3zM429.7,634.3h1.3v1.3h-1.3zM421.8,627.3h1.3v1.3h-1.3zM422.0,633.4h1.3v1.3h-1.3zM427.7,635.6h1.3v1.3h-1.3zM429.8,630.8h1.3v1.3h-1.3zM430.7,635.9h1.3v1.3h-1.3zM428.6,634.7h1.3v1.3h-1.3zM422.5,634.2h1.3v1.3h-1.3zM423.4,628.3h1.3v1.3h-1.3zM425.7,633.4h1.3v1.3h-1.3zM426.8,631.6h1.3v1.3h-1.3zM423.5,633.6h1.3v1.3h-1.3zM424.4,627.5h1.3v1.3h-1.3zM427.3,638.3h1.3v1.3h-1.3zM425.5,628.8h1.3v1.3h-1.3zM431.8,639.3h1.3v1.3h-1.3zM425.9,632.1h1.3v1.3h-1.3zM427.7,644.0h1.3v1.3h-1.3zM427.4,636.6h1.3v1.3h-1.3zM428.5,626.0h1.3v1.3h-1.3zM423.1,628.2h1.3v1.3h-1.3zM428.5,633.3h1.3v1.3h-1.3zM433.2,631.8h1.3v1.3h-1.3zM428.0,633.1h1.3v1.3h-1.3zM427.4,641.6h1.3v1.3h-1.3zM427.9,638.4h1.3v1.3h-1.3zM431.5,630.6h1.3v1.3h-1.3zM429.3,631.4h1.3v1.3h-1.3zM427.3,633.4h1.3v1.3h-1.3zM427.0,631.1h1.3v1.3h-1.3zM432.4,631.8h1.3v1.3h-1.3zM429.4,639.2h1.3v1.3h-1.3zM429.1,636.7h1.3v1.3h-1.3zM431.8,637.0h1.3v1.3h-1.3zM432.9,627.4h1.3v1.3h-1.3zM433.8,633.0h1.3v1.3h-1.3zM420.9,630.4h1.3v1.3h-1.3zM422.1,632.8h1.3v1.3h-1.3zM421.8,629.0h1.3v1.3h-1.3zM428.0,633.4h1.3v1.3h-1.3zM424.2,632.0h1.3v1.3h-1.3zM426.6,633.1h1.3v1.3h-1.3zM426.9,632.0h1.3v1.3h-1.3zM430.0,626.8h1.3v1.3h-1.3zM425.2,633.4h1.3v1.3h-1.3zM425.5,630.8h1.3v1.3h-1.3zM425.4,633.6h1.3v1.3h-1.3zM431.3,632.1h1.3v1.3h-1.3zM426.0,634.2h1.3v1.3h-1.3zM426.1,625.5h1.3v1.3h-1.3zM427.9,631.4h1.3v1.3h-1.3zM424.9,635.2h1.3v1.3h-1.3zM427.1,630.7h1.3v1.3h-1.3zM419.3,626.3h1.3v1.3h-1.3zM427.0,632.4h1.3v1.3h-1.3zM428.5,633.7h1.3v1.3h-1.3zM425.3,628.0h1.3v1.3h-1.3zM423.1,632.3h1.3v1.3h-1.3zM422.9,635.7h1.3v1.3h-1.3zM422.3,626.0h1.3v1.3h-1.3zM426.3,626.1h1.3v1.3h-1.3zM432.6,629.1h1.3v1.3h-1.3zM426.8,631.9h1.3v1.3h-1.3zM424.1,626.1h1.3v1.3h-1.3zM420.4,636.1h1.3v1.3h-1.3zM430.5,641.1h1.3v1.3h-1.3zM421.8,635.0h1.3v1.3h-1.3zM426.9,636.1h1.3v1.3h-1.3zM425.2,635.6h1.3v1.3h-1.3zM430.1,635.2h1.3v1.3h-1.3zM432.0,632.2h1.3v1.3h-1.3zM432.4,630.2h1.3v1.3h-1.3zM432.8,622.4h1.3v1.3h-1.3zM427.0,629.8h1.3v1.3h-1.3zM427.0,636.8h1.3v1.3h-1.3zM429.5,633.2h1.3v1.3h-1.3zM432.9,627.2h1.3v1.3h-1.3zM424.1,638.6h1.3v1.3h-1.3zM428.1,625.0h1.3v1.3h-1.3zM428.1,628.3h1.3v1.3h-1.3zM432.1,637.2h1.3v1.3h-1.3zM425.0,637.8h1.3v1.3h-1.3zM424.0,636.3h1.3v1.3h-1.3zM429.0,632.4h1.3v1.3h-1.3zM422.0,631.8h1.3v1.3h-1.3zM418.9,630.7h1.3v1.3h-1.3zM420.5,637.5h1.3v1.3h-1.3zM423.6,623.6h1.3v1.3h-1.3zM429.0,634.3h1.3v1.3h-1.3zM425.2,640.9h1.3v1.3h-1.3zM429.7,633.1h1.3v1.3h-1.3zM424.7,621.6h1.3v1.3h-1.3zM428.6,636.5h1.3v1.3h-1.3zM424.9,627.5h1.3v1.3h-1.3zM426.8,626.5h1.3v1.3h-1.3zM427.0,635.8h1.3v1.3h-1.3zM432.2,633.9h1.3v1.3h-1.3zM427.6,635.7h1.3v1.3h-1.3zM431.8,631.6h1.3v1.3h-1.3zM422.7,629.8h1.3v1.3h-1.3zM422.5,629.5h1.3v1.3h-1.3zM426.5,634.2h1.3v1.3h-1.3zM427.5,633.1h1.3v1.3h-1.3zM425.7,634.5h1.3v1.3h-1.3zM430.0,635.7h1.3v1.3h-1.3zM432.2,631.7h1.3v1.3h-1.3zM426.1,639.3h1.3v1.3h-1.3zM427.7,634.4h1.3v1.3h-1.3zM425.8,636.5h1.3v1.3h-1.3zM425.5,629.0h1.3v1.3h-1.3zM426.7,631.2h1.3v1.3h-1.3zM429.9,631.4h1.3v1.3h-1.3zM427.4,632.0h1.3v1.3h-1.3zM428.1,630.5h1.3v1.3h-1.3zM430.8,627.4h1.3v1.3h-1.3zM425.6,630.2h1.3v1.3h-1.3zM429.2,633.0h1.3v1.3h-1.3zM428.6,631.6h1.3v1.3h-1.3zM424.4,628.6h1.3v1.3h-1.3zM425.8,630.8h1.3v1.3h-1.3zM427.9,634.2h1.3v1.3h-1.3zM430.4,632.4h1.3v1.3h-1.3zM424.3,628.8h1.3v1.3h-1.3zM427.2,634.2h1.3v1.3h-1.3zM433.8,633.5h1.3v1.3h-1.3zM433.1,640.0h1.3v1.3h-1.3zM423.3,637.4h1.3v1.3h-1.3zM430.9,638.0h1.3v1.3h-1.3zM426.9,636.5h1.3v1.3h-1.3zM425.3,632.6h1.3v1.3h-1.3zM427.0,639.6h1.3v1.3h-1.3zM426.2,636.5h1.3v1.3h-1.3zM427.2,630.2h1.3v1.3h-1.3zM427.8,635.4h1.3v1.3h-1.3zM424.5,635.3h1.3v1.3h-1.3zM424.5,629.5h1.3v1.3h-1.3zM427.7,632.0h1.3v1.3h-1.3zM423.5,626.7h1.3v1.3h-1.3zM427.0,633.8h1.3v1.3h-1.3zM425.3,633.6h1.3v1.3h-1.3zM421.6,634.3h1.3v1.3h-1.3zM428.4,633.9h1.3v1.3h-1.3zM424.8,633.2h1.3v1.3h-1.3zM427.4,636.9h1.3v1.3h-1.3zM427.9,633.8h1.3v1.3h-1.3zM424.4,636.1h1.3v1.3h-1.3zM431.1,631.0h1.3v1.3h-1.3zM429.2,634.0h1.3v1.3h-1.3zM426.8,628.0h1.3v1.3h-1.3zM433.1,625.8h1.3v1.3h-1.3zM428.0,631.4h1.3v1.3h-1.3zM431.0,631.2h1.3v1.3h-1.3zM427.1,635.2h1.3v1.3h-1.3zM428.5,630.9h1.3v1.3h-1.3zM429.3,634.3h1.3v1.3h-1.3zM430.4,630.9h1.3v1.3h-1.3zM426.8,631.4h1.3v1.3h-1.3zM424.0,633.8h1.3v1.3h-1.3zM428.4,638.2h1.3v1.3h-1.3zM425.8,634.3h1.3v1.3h-1.3zM430.9,632.4h1.3v1.3h-1.3zM427.2,633.4h1.3v1.3h-1.3zM422.4,625.7h1.3v1.3h-1.3zM434.4,634.1h1.3v1.3h-1.3zM426.5,623.9h1.3v1.3h-1.3zM427.7,641.3h1.3v1.3h-1.3zM419.3,626.4h1.3v1.3h-1.3zM434.3,643.1h1.3v1.3h-1.3zM437.2,628.9h1.3v1.3h-1.3zM430.9,627.4h1.3v1.3h-1.3zM430.4,630.2h1.3v1.3h-1.3zM428.2,642.5h1.3v1.3h-1.3zM429.2,631.1h1.3v1.3h-1.3zM427.3,634.8h1.3v1.3h-1.3zM423.6,634.3h1.3v1.3h-1.3zM430.9,644.1h1.3v1.3h-1.3zM413.3,624.3h1.3v1.3h-1.3zM418.8,639.1h1.3v1.3h-1.3zM443.1,634.2h1.3v1.3h-1.3zM427.8,641.0h1.3v1.3h-1.3zM410.8,631.6h1.3v1.3h-1.3zM423.6,629.4h1.3v1.3h-1.3zM429.2,628.7h1.3v1.3h-1.3zM434.3,632.8h1.3v1.3h-1.3zM429.5,651.1h1.3v1.3h-1.3zM424.0,639.5h1.3v1.3h-1.3zM421.5,641.8h1.3v1.3h-1.3zM433.3,633.9h1.3v1.3h-1.3zM433.5,644.4h1.3v1.3h-1.3zM436.0,632.9h1.3v1.3h-1.3zM426.6,640.8h1.3v1.3h-1.3zM452.4,638.4h1.3v1.3h-1.3z" fill="#111"/>
<rect x="409.50" y="597.80" width="103.30" height="90.20" fill="none" stroke="#151515" stroke-width="1.25"/>
<line x1="437.00" y1="597.80" x2="437.00" y2="688.00" stroke="#151515" stroke-width="1.25" />
<line x1="409.50" y1="661.50" x2="512.80" y2="661.50" stroke="#151515" stroke-width="1.25" />
<path d="M409.50,688.00v5.50M409.50,688.00h-5.50M417.27,688.00v2.60M409.50,681.21h-2.60M421.82,688.00v2.60M409.50,677.24h-2.60M425.05,688.00v2.60M409.50,674.42h-2.60M427.55,688.00v2.60M409.50,672.24h-2.60M429.60,688.00v2.60M409.50,670.45h-2.60M431.32,688.00v2.60M409.50,668.94h-2.60M432.82,688.00v2.60M409.50,667.64h-2.60M434.14,688.00v2.60M409.50,666.48h-2.60M435.32,688.00v5.50M409.50,665.45h-5.50M443.10,688.00v2.60M409.50,658.66h-2.60M447.65,688.00v2.60M409.50,654.69h-2.60M450.87,688.00v2.60M409.50,651.87h-2.60M453.38,688.00v2.60M409.50,649.69h-2.60M455.42,688.00v2.60M409.50,647.90h-2.60M457.15,688.00v2.60M409.50,646.39h-2.60M458.65,688.00v2.60M409.50,645.09h-2.60M459.97,688.00v2.60M409.50,643.93h-2.60M461.15,688.00v5.50M409.50,642.90h-5.50M468.92,688.00v2.60M409.50,636.11h-2.60M473.47,688.00v2.60M409.50,632.14h-2.60M476.70,688.00v2.60M409.50,629.32h-2.60M479.20,688.00v2.60M409.50,627.14h-2.60M481.25,688.00v2.60M409.50,625.35h-2.60M482.97,688.00v2.60M409.50,623.84h-2.60M484.47,688.00v2.60M409.50,622.54h-2.60M485.79,688.00v2.60M409.50,621.38h-2.60M486.97,688.00v5.50M409.50,620.35h-5.50M494.75,688.00v2.60M409.50,613.56h-2.60M499.30,688.00v2.60M409.50,609.59h-2.60M502.52,688.00v2.60M409.50,606.77h-2.60M505.03,688.00v2.60M409.50,604.59h-2.60M507.07,688.00v2.60M409.50,602.80h-2.60M508.80,688.00v2.60M409.50,601.29h-2.60M510.30,688.00v2.60M409.50,599.99h-2.60M511.62,688.00v2.60M409.50,598.83h-2.60M512.80,688.00v5.5M409.50,597.80h-5.5" stroke="#1a1a1a" stroke-width="1.25" fill="none"/>
<text x="403.00" y="705.0" font-size="11.6" fill="#222" textLength="9.0" lengthAdjust="spacingAndGlyphs">10</text>
<text x="412.90" y="699.4" font-size="11.6" fill="#222" textLength="4.6" lengthAdjust="spacingAndGlyphs">0</text>
<text x="428.82" y="705.0" font-size="11.6" fill="#222" textLength="9.0" lengthAdjust="spacingAndGlyphs">10</text>
<text x="438.72" y="699.4" font-size="11.6" fill="#222" textLength="4.6" lengthAdjust="spacingAndGlyphs">1</text>
<text x="454.65" y="705.0" font-size="11.6" fill="#222" textLength="9.0" lengthAdjust="spacingAndGlyphs">10</text>
<text x="464.55" y="699.4" font-size="11.6" fill="#222" textLength="4.6" lengthAdjust="spacingAndGlyphs">2</text>
<text x="480.47" y="705.0" font-size="11.6" fill="#222" textLength="9.0" lengthAdjust="spacingAndGlyphs">10</text>
<text x="490.37" y="699.4" font-size="11.6" fill="#222" textLength="4.6" lengthAdjust="spacingAndGlyphs">3</text>
<text x="506.30" y="705.0" font-size="11.6" fill="#222" textLength="9.0" lengthAdjust="spacingAndGlyphs">10</text>
<text x="516.20" y="699.4" font-size="11.6" fill="#222" textLength="4.6" lengthAdjust="spacingAndGlyphs">4</text>
<text x="414.50" y="614.70" font-size="20.3" font-weight="bold" text-anchor="start" fill="#111" >iv</text>
<line x1="466.60" y1="611.50" x2="512.80" y2="611.50" stroke="#151515" stroke-width="1.3" />
<line x1="490.00" y1="597.80" x2="490.00" y2="625.00" stroke="#151515" stroke-width="1.3" />
<text x="487.50" y="610.70" font-size="11" font-weight="normal" text-anchor="end" fill="#222" >99</text>
<text x="501.00" y="610.70" font-size="11" font-weight="normal" text-anchor="end" fill="#222" >1</text>
<text x="485.30" y="624.40" font-size="11" font-weight="normal" text-anchor="end" fill="#222" >0</text>
<text x="501.00" y="624.40" font-size="11" font-weight="normal" text-anchor="end" fill="#222" >0</text>
<text x="0.00" y="0.00" font-size="10" font-weight="normal" text-anchor="middle" fill="#333" transform="translate(9.9,641.3) rotate(-90)">Perforin</text>
<text x="0.00" y="0.00" font-size="10" font-weight="normal" text-anchor="middle" fill="#333" transform="translate(278.6,641.2) rotate(-90)">Fas</text>
<text x="135.30" y="718.90" font-size="10" font-weight="normal" text-anchor="middle" fill="#333" >Granzyme A</text>
<text x="402.10" y="718.90" font-size="10" font-weight="normal" text-anchor="middle" fill="#333" >FasL</text>
</svg></body></html>
